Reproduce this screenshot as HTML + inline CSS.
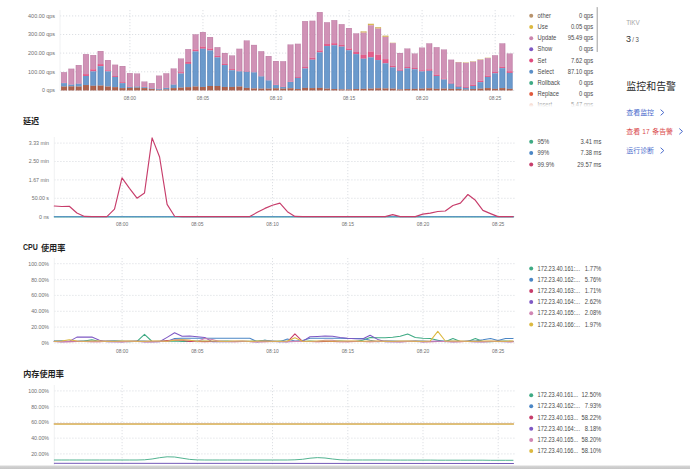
<!DOCTYPE html>
<html lang="zh-CN">
<head>
<meta charset="utf-8">
<title>TiDB Dashboard - Overview</title>
<style>
html,body{margin:0;padding:0;background:#fff;}
body{width:690px;height:469px;overflow:hidden;font-family:"Liberation Sans",sans-serif;}
svg{display:block;}
text{font-family:"Liberation Sans","Noto Sans CJK SC",sans-serif;}
</style>
</head>
<body>
<svg role="img" aria-label="TiDB Dashboard overview" width="690" height="469" viewBox="0 0 690 469" font-family='"Liberation Sans", "Noto Sans CJK SC", sans-serif'>
<defs>
<clipPath id="legclip"><rect x="520" y="0" width="85" height="107"/></clipPath>
<linearGradient id="fade" x1="0" y1="0" x2="0" y2="1"><stop offset="0" stop-color="#fff" stop-opacity="0.2"/><stop offset="1" stop-color="#fff" stop-opacity="1"/></linearGradient>
<linearGradient id="bot" x1="0" y1="0" x2="0" y2="1"><stop offset="0" stop-color="#ececec"/><stop offset="0.35" stop-color="#d2d2d2"/><stop offset="1" stop-color="#c6c6c6"/></linearGradient>
</defs>
<rect width="690" height="469" fill="#fff"/>
<line x1="60.0" y1="15.9" x2="514.5" y2="15.9" stroke="#cfd3d8" stroke-width="0.7" stroke-dasharray="1.2 1.8"/>
<text x="55" y="17.8" font-size="5.6" fill="#707070" text-anchor="end" font-weight="normal" textLength="26.9" lengthAdjust="spacingAndGlyphs">400.00 qps</text>
<line x1="60.0" y1="34.5" x2="514.5" y2="34.5" stroke="#cfd3d8" stroke-width="0.7" stroke-dasharray="1.2 1.8"/>
<text x="55" y="36.4" font-size="5.6" fill="#707070" text-anchor="end" font-weight="normal" textLength="26.9" lengthAdjust="spacingAndGlyphs">300.00 qps</text>
<line x1="60.0" y1="53.1" x2="514.5" y2="53.1" stroke="#cfd3d8" stroke-width="0.7" stroke-dasharray="1.2 1.8"/>
<text x="55" y="55.0" font-size="5.6" fill="#707070" text-anchor="end" font-weight="normal" textLength="26.9" lengthAdjust="spacingAndGlyphs">200.00 qps</text>
<line x1="60.0" y1="71.8" x2="514.5" y2="71.8" stroke="#cfd3d8" stroke-width="0.7" stroke-dasharray="1.2 1.8"/>
<text x="55" y="73.7" font-size="5.6" fill="#707070" text-anchor="end" font-weight="normal" textLength="26.9" lengthAdjust="spacingAndGlyphs">100.00 qps</text>
<line x1="60.0" y1="90.4" x2="514.5" y2="90.4" stroke="#cfd3d8" stroke-width="0.7" stroke-dasharray="1.2 1.8"/>
<text x="55" y="92.30000000000001" font-size="5.6" fill="#707070" text-anchor="end" font-weight="normal" textLength="12.88" lengthAdjust="spacingAndGlyphs">0 qps</text>
<line x1="60.0" y1="10" x2="60.0" y2="90.4" stroke="#eceef0" stroke-width="0.8"/>
<line x1="129.9" y1="10" x2="129.9" y2="90.4" stroke="#cfd3d8" stroke-width="0.7" stroke-dasharray="1.2 1.8"/>
<text x="129.9" y="100" font-size="5.6" fill="#707070" text-anchor="middle" font-weight="normal" textLength="12.3" lengthAdjust="spacingAndGlyphs">08:00</text>
<line x1="202.95" y1="10" x2="202.95" y2="90.4" stroke="#cfd3d8" stroke-width="0.7" stroke-dasharray="1.2 1.8"/>
<text x="202.95" y="100" font-size="5.6" fill="#707070" text-anchor="middle" font-weight="normal" textLength="12.3" lengthAdjust="spacingAndGlyphs">08:05</text>
<line x1="276.0" y1="10" x2="276.0" y2="90.4" stroke="#cfd3d8" stroke-width="0.7" stroke-dasharray="1.2 1.8"/>
<text x="276.0" y="100" font-size="5.6" fill="#707070" text-anchor="middle" font-weight="normal" textLength="12.3" lengthAdjust="spacingAndGlyphs">08:10</text>
<line x1="349.05" y1="10" x2="349.05" y2="90.4" stroke="#cfd3d8" stroke-width="0.7" stroke-dasharray="1.2 1.8"/>
<text x="349.05" y="100" font-size="5.6" fill="#707070" text-anchor="middle" font-weight="normal" textLength="12.3" lengthAdjust="spacingAndGlyphs">08:15</text>
<line x1="422.1" y1="10" x2="422.1" y2="90.4" stroke="#cfd3d8" stroke-width="0.7" stroke-dasharray="1.2 1.8"/>
<text x="422.1" y="100" font-size="5.6" fill="#707070" text-anchor="middle" font-weight="normal" textLength="12.3" lengthAdjust="spacingAndGlyphs">08:20</text>
<line x1="495.15" y1="10" x2="495.15" y2="90.4" stroke="#cfd3d8" stroke-width="0.7" stroke-dasharray="1.2 1.8"/>
<text x="495.15" y="100" font-size="5.6" fill="#707070" text-anchor="middle" font-weight="normal" textLength="12.3" lengthAdjust="spacingAndGlyphs">08:25</text>
<rect x="61.26" y="72.17" width="5.6" height="10.56" fill="#cb86ae" fill-opacity="0.9"/>
<path d="M61.51 72.17V82.72M66.61 72.17V82.72" stroke="#cb86ae" stroke-width="0.5" fill="none"/>
<rect x="61.26" y="82.72" width="5.6" height="0.38" fill="#e04c7e" fill-opacity="0.9"/>
<path d="M61.51 82.72V83.11M66.61 82.72V83.11" stroke="#e04c7e" stroke-width="0.5" fill="none"/>
<rect x="61.26" y="83.11" width="5.6" height="3.45" fill="#5b8fc7" fill-opacity="0.9"/>
<path d="M61.51 83.11V86.56M66.61 83.11V86.56" stroke="#5b8fc7" stroke-width="0.5" fill="none"/>
<rect x="61.26" y="86.56" width="5.6" height="3.84" fill="#a4523a" fill-opacity="0.9"/>
<path d="M61.51 86.56V90.40M66.61 86.56V90.40" stroke="#a4523a" stroke-width="0.5" fill="none"/>
<rect x="61.46" y="72.37" width="5.199999999999999" height="18.03" fill="none" stroke="#5a2a56" stroke-opacity="0.18" stroke-width="0.4"/>
<rect x="68.56" y="68.71" width="5.6" height="15.55" fill="#cb86ae" fill-opacity="0.9"/>
<path d="M68.81 68.71V84.26M73.91 68.71V84.26" stroke="#cb86ae" stroke-width="0.5" fill="none"/>
<rect x="68.56" y="84.26" width="5.6" height="0.38" fill="#e04c7e" fill-opacity="0.9"/>
<path d="M68.81 84.26V84.64M73.91 84.26V84.64" stroke="#e04c7e" stroke-width="0.5" fill="none"/>
<rect x="68.56" y="84.64" width="5.6" height="1.73" fill="#5b8fc7" fill-opacity="0.9"/>
<path d="M68.81 84.64V86.37M73.91 84.64V86.37" stroke="#5b8fc7" stroke-width="0.5" fill="none"/>
<rect x="68.56" y="86.37" width="5.6" height="4.03" fill="#a4523a" fill-opacity="0.9"/>
<path d="M68.81 86.37V90.40M73.91 86.37V90.40" stroke="#a4523a" stroke-width="0.5" fill="none"/>
<rect x="68.76" y="68.91" width="5.199999999999999" height="21.49" fill="none" stroke="#5a2a56" stroke-opacity="0.18" stroke-width="0.4"/>
<rect x="75.87" y="65.06" width="5.6" height="18.23" fill="#cb86ae" fill-opacity="0.9"/>
<path d="M76.12 65.06V83.30M81.22 65.06V83.30" stroke="#cb86ae" stroke-width="0.5" fill="none"/>
<rect x="75.87" y="83.30" width="5.6" height="0.38" fill="#e04c7e" fill-opacity="0.9"/>
<path d="M76.12 83.30V83.68M81.22 83.30V83.68" stroke="#e04c7e" stroke-width="0.5" fill="none"/>
<rect x="75.87" y="83.68" width="5.6" height="2.88" fill="#5b8fc7" fill-opacity="0.9"/>
<path d="M76.12 83.68V86.56M81.22 83.68V86.56" stroke="#5b8fc7" stroke-width="0.5" fill="none"/>
<rect x="75.87" y="86.56" width="5.6" height="3.84" fill="#a4523a" fill-opacity="0.9"/>
<path d="M76.12 86.56V90.40M81.22 86.56V90.40" stroke="#a4523a" stroke-width="0.5" fill="none"/>
<rect x="76.07" y="65.26" width="5.199999999999999" height="25.14" fill="none" stroke="#5a2a56" stroke-opacity="0.18" stroke-width="0.4"/>
<rect x="83.17" y="54.12" width="5.6" height="19.96" fill="#cb86ae" fill-opacity="0.9"/>
<path d="M83.42 54.12V74.09M88.52 54.12V74.09" stroke="#cb86ae" stroke-width="0.5" fill="none"/>
<rect x="83.17" y="74.09" width="5.6" height="1.92" fill="#e04c7e" fill-opacity="0.9"/>
<path d="M83.42 74.09V76.00M88.52 74.09V76.00" stroke="#e04c7e" stroke-width="0.5" fill="none"/>
<rect x="83.17" y="76.00" width="5.6" height="9.02" fill="#5b8fc7" fill-opacity="0.9"/>
<path d="M83.42 76.00V85.03M88.52 76.00V85.03" stroke="#5b8fc7" stroke-width="0.5" fill="none"/>
<rect x="83.17" y="85.03" width="5.6" height="5.37" fill="#a4523a" fill-opacity="0.9"/>
<path d="M83.42 85.03V90.40M88.52 85.03V90.40" stroke="#a4523a" stroke-width="0.5" fill="none"/>
<rect x="83.37" y="54.32" width="5.199999999999999" height="36.08" fill="none" stroke="#5a2a56" stroke-opacity="0.18" stroke-width="0.4"/>
<rect x="90.48" y="55.08" width="5.6" height="14.20" fill="#cb86ae" fill-opacity="0.9"/>
<path d="M90.73 55.08V69.29M95.83 55.08V69.29" stroke="#cb86ae" stroke-width="0.5" fill="none"/>
<rect x="90.48" y="69.29" width="5.6" height="2.11" fill="#e04c7e" fill-opacity="0.9"/>
<path d="M90.73 69.29V71.40M95.83 69.29V71.40" stroke="#e04c7e" stroke-width="0.5" fill="none"/>
<rect x="90.48" y="71.40" width="5.6" height="14.40" fill="#5b8fc7" fill-opacity="0.9"/>
<path d="M90.73 71.40V85.79M95.83 71.40V85.79" stroke="#5b8fc7" stroke-width="0.5" fill="none"/>
<rect x="90.48" y="85.79" width="5.6" height="4.61" fill="#a4523a" fill-opacity="0.9"/>
<path d="M90.73 85.79V90.40M95.83 85.79V90.40" stroke="#a4523a" stroke-width="0.5" fill="none"/>
<rect x="90.68" y="55.28" width="5.199999999999999" height="35.12" fill="none" stroke="#5a2a56" stroke-opacity="0.18" stroke-width="0.4"/>
<rect x="97.78" y="51.05" width="5.6" height="13.05" fill="#cb86ae" fill-opacity="0.9"/>
<path d="M98.03 51.05V64.10M103.13 51.05V64.10" stroke="#cb86ae" stroke-width="0.5" fill="none"/>
<rect x="97.78" y="64.10" width="5.6" height="2.11" fill="#e04c7e" fill-opacity="0.9"/>
<path d="M98.03 64.10V66.22M103.13 64.10V66.22" stroke="#e04c7e" stroke-width="0.5" fill="none"/>
<rect x="97.78" y="66.22" width="5.6" height="19.39" fill="#5b8fc7" fill-opacity="0.9"/>
<path d="M98.03 66.22V85.60M103.13 66.22V85.60" stroke="#5b8fc7" stroke-width="0.5" fill="none"/>
<rect x="97.78" y="85.60" width="5.6" height="4.80" fill="#a4523a" fill-opacity="0.9"/>
<path d="M98.03 85.60V90.40M103.13 85.60V90.40" stroke="#a4523a" stroke-width="0.5" fill="none"/>
<rect x="97.98" y="51.25" width="5.199999999999999" height="39.15" fill="none" stroke="#5a2a56" stroke-opacity="0.18" stroke-width="0.4"/>
<rect x="105.09" y="60.07" width="5.6" height="10.17" fill="#cb86ae" fill-opacity="0.9"/>
<path d="M105.34 60.07V70.25M110.44 60.07V70.25" stroke="#cb86ae" stroke-width="0.5" fill="none"/>
<rect x="105.09" y="70.25" width="5.6" height="1.15" fill="#e04c7e" fill-opacity="0.9"/>
<path d="M105.34 70.25V71.40M110.44 70.25V71.40" stroke="#e04c7e" stroke-width="0.5" fill="none"/>
<rect x="105.09" y="71.40" width="5.6" height="15.16" fill="#5b8fc7" fill-opacity="0.9"/>
<path d="M105.34 71.40V86.56M110.44 71.40V86.56" stroke="#5b8fc7" stroke-width="0.5" fill="none"/>
<rect x="105.09" y="86.56" width="5.6" height="3.84" fill="#a4523a" fill-opacity="0.9"/>
<path d="M105.34 86.56V90.40M110.44 86.56V90.40" stroke="#a4523a" stroke-width="0.5" fill="none"/>
<rect x="105.29" y="60.27" width="5.199999999999999" height="30.13" fill="none" stroke="#5a2a56" stroke-opacity="0.18" stroke-width="0.4"/>
<rect x="112.39" y="64.68" width="5.6" height="11.32" fill="#cb86ae" fill-opacity="0.9"/>
<path d="M112.64 64.68V76.00M117.74 64.68V76.00" stroke="#cb86ae" stroke-width="0.5" fill="none"/>
<rect x="112.39" y="76.00" width="5.6" height="0.96" fill="#e04c7e" fill-opacity="0.9"/>
<path d="M112.64 76.00V76.96M117.74 76.00V76.96" stroke="#e04c7e" stroke-width="0.5" fill="none"/>
<rect x="112.39" y="76.96" width="5.6" height="10.17" fill="#5b8fc7" fill-opacity="0.9"/>
<path d="M112.64 76.96V87.14M117.74 76.96V87.14" stroke="#5b8fc7" stroke-width="0.5" fill="none"/>
<rect x="112.39" y="87.14" width="5.6" height="3.26" fill="#a4523a" fill-opacity="0.9"/>
<path d="M112.64 87.14V90.40M117.74 87.14V90.40" stroke="#a4523a" stroke-width="0.5" fill="none"/>
<rect x="112.59" y="64.88" width="5.199999999999999" height="25.52" fill="none" stroke="#5a2a56" stroke-opacity="0.18" stroke-width="0.4"/>
<rect x="119.70" y="66.02" width="5.6" height="16.12" fill="#cb86ae" fill-opacity="0.9"/>
<path d="M119.95 66.02V82.15M125.05 66.02V82.15" stroke="#cb86ae" stroke-width="0.5" fill="none"/>
<rect x="119.70" y="82.15" width="5.6" height="0.96" fill="#e04c7e" fill-opacity="0.9"/>
<path d="M119.95 82.15V83.11M125.05 82.15V83.11" stroke="#e04c7e" stroke-width="0.5" fill="none"/>
<rect x="119.70" y="83.11" width="5.6" height="4.99" fill="#5b8fc7" fill-opacity="0.9"/>
<path d="M119.95 83.11V88.10M125.05 83.11V88.10" stroke="#5b8fc7" stroke-width="0.5" fill="none"/>
<rect x="119.70" y="88.10" width="5.6" height="2.30" fill="#a4523a" fill-opacity="0.9"/>
<path d="M119.95 88.10V90.40M125.05 88.10V90.40" stroke="#a4523a" stroke-width="0.5" fill="none"/>
<rect x="119.90" y="66.22" width="5.199999999999999" height="24.18" fill="none" stroke="#5a2a56" stroke-opacity="0.18" stroke-width="0.4"/>
<rect x="127.00" y="73.13" width="5.6" height="13.44" fill="#cb86ae" fill-opacity="0.9"/>
<path d="M127.25 73.13V86.56M132.35 73.13V86.56" stroke="#cb86ae" stroke-width="0.5" fill="none"/>
<rect x="127.00" y="86.56" width="5.6" height="0.38" fill="#e04c7e" fill-opacity="0.9"/>
<path d="M127.25 86.56V86.95M132.35 86.56V86.95" stroke="#e04c7e" stroke-width="0.5" fill="none"/>
<rect x="127.00" y="86.95" width="5.6" height="0.96" fill="#5b8fc7" fill-opacity="0.9"/>
<path d="M127.25 86.95V87.90M132.35 86.95V87.90" stroke="#5b8fc7" stroke-width="0.5" fill="none"/>
<rect x="127.00" y="87.90" width="5.6" height="2.50" fill="#a4523a" fill-opacity="0.9"/>
<path d="M127.25 87.90V90.40M132.35 87.90V90.40" stroke="#a4523a" stroke-width="0.5" fill="none"/>
<rect x="127.20" y="73.33" width="5.199999999999999" height="17.07" fill="none" stroke="#5a2a56" stroke-opacity="0.18" stroke-width="0.4"/>
<rect x="134.31" y="73.51" width="5.6" height="12.67" fill="#cb86ae" fill-opacity="0.9"/>
<path d="M134.56 73.51V86.18M139.66 73.51V86.18" stroke="#cb86ae" stroke-width="0.5" fill="none"/>
<rect x="134.31" y="86.18" width="5.6" height="0.38" fill="#e04c7e" fill-opacity="0.9"/>
<path d="M134.56 86.18V86.56M139.66 86.18V86.56" stroke="#e04c7e" stroke-width="0.5" fill="none"/>
<rect x="134.31" y="86.56" width="5.6" height="1.15" fill="#5b8fc7" fill-opacity="0.9"/>
<path d="M134.56 86.56V87.71M139.66 86.56V87.71" stroke="#5b8fc7" stroke-width="0.5" fill="none"/>
<rect x="134.31" y="87.71" width="5.6" height="2.69" fill="#a4523a" fill-opacity="0.9"/>
<path d="M134.56 87.71V90.40M139.66 87.71V90.40" stroke="#a4523a" stroke-width="0.5" fill="none"/>
<rect x="134.50" y="73.71" width="5.199999999999999" height="16.69" fill="none" stroke="#5a2a56" stroke-opacity="0.18" stroke-width="0.4"/>
<rect x="141.61" y="81.57" width="5.6" height="5.18" fill="#cb86ae" fill-opacity="0.9"/>
<path d="M141.86 81.57V86.75M146.96 81.57V86.75" stroke="#cb86ae" stroke-width="0.5" fill="none"/>
<rect x="141.61" y="86.75" width="5.6" height="0.38" fill="#e04c7e" fill-opacity="0.9"/>
<path d="M141.86 86.75V87.14M146.96 86.75V87.14" stroke="#e04c7e" stroke-width="0.5" fill="none"/>
<rect x="141.61" y="87.14" width="5.6" height="0.96" fill="#5b8fc7" fill-opacity="0.9"/>
<path d="M141.86 87.14V88.10M146.96 87.14V88.10" stroke="#5b8fc7" stroke-width="0.5" fill="none"/>
<rect x="141.61" y="88.10" width="5.6" height="2.30" fill="#a4523a" fill-opacity="0.9"/>
<path d="M141.86 88.10V90.40M146.96 88.10V90.40" stroke="#a4523a" stroke-width="0.5" fill="none"/>
<rect x="141.81" y="81.77" width="5.199999999999999" height="8.63" fill="none" stroke="#5a2a56" stroke-opacity="0.18" stroke-width="0.4"/>
<rect x="148.91" y="83.11" width="5.6" height="4.99" fill="#cb86ae" fill-opacity="0.9"/>
<path d="M149.16 83.11V88.10M154.26 83.11V88.10" stroke="#cb86ae" stroke-width="0.5" fill="none"/>
<rect x="148.91" y="88.10" width="5.6" height="0.38" fill="#e04c7e" fill-opacity="0.9"/>
<path d="M149.16 88.10V88.48M154.26 88.10V88.48" stroke="#e04c7e" stroke-width="0.5" fill="none"/>
<rect x="148.91" y="88.48" width="5.6" height="0.58" fill="#5b8fc7" fill-opacity="0.9"/>
<path d="M149.16 88.48V89.06M154.26 88.48V89.06" stroke="#5b8fc7" stroke-width="0.5" fill="none"/>
<rect x="148.91" y="89.06" width="5.6" height="1.34" fill="#a4523a" fill-opacity="0.9"/>
<path d="M149.16 89.06V90.40M154.26 89.06V90.40" stroke="#a4523a" stroke-width="0.5" fill="none"/>
<rect x="149.11" y="83.31" width="5.199999999999999" height="7.09" fill="none" stroke="#5a2a56" stroke-opacity="0.18" stroke-width="0.4"/>
<rect x="156.22" y="75.62" width="5.6" height="12.86" fill="#cb86ae" fill-opacity="0.9"/>
<path d="M156.47 75.62V88.48M161.57 75.62V88.48" stroke="#cb86ae" stroke-width="0.5" fill="none"/>
<rect x="156.22" y="88.48" width="5.6" height="0.38" fill="#e04c7e" fill-opacity="0.9"/>
<path d="M156.47 88.48V88.86M161.57 88.48V88.86" stroke="#e04c7e" stroke-width="0.5" fill="none"/>
<rect x="156.22" y="88.86" width="5.6" height="0.96" fill="#5b8fc7" fill-opacity="0.9"/>
<path d="M156.47 88.86V89.82M161.57 88.86V89.82" stroke="#5b8fc7" stroke-width="0.5" fill="none"/>
<rect x="156.22" y="89.82" width="5.6" height="0.58" fill="#a4523a" fill-opacity="0.9"/>
<path d="M156.47 89.82V90.40M161.57 89.82V90.40" stroke="#a4523a" stroke-width="0.5" fill="none"/>
<rect x="156.42" y="75.82" width="5.199999999999999" height="14.58" fill="none" stroke="#5a2a56" stroke-opacity="0.18" stroke-width="0.4"/>
<rect x="163.53" y="73.32" width="5.6" height="14.20" fill="#cb86ae" fill-opacity="0.9"/>
<path d="M163.78 73.32V87.52M168.88 73.32V87.52" stroke="#cb86ae" stroke-width="0.5" fill="none"/>
<rect x="163.53" y="87.52" width="5.6" height="0.38" fill="#e04c7e" fill-opacity="0.9"/>
<path d="M163.78 87.52V87.90M168.88 87.52V87.90" stroke="#e04c7e" stroke-width="0.5" fill="none"/>
<rect x="163.53" y="87.90" width="5.6" height="1.54" fill="#5b8fc7" fill-opacity="0.9"/>
<path d="M163.78 87.90V89.44M168.88 87.90V89.44" stroke="#5b8fc7" stroke-width="0.5" fill="none"/>
<rect x="163.53" y="89.44" width="5.6" height="0.96" fill="#a4523a" fill-opacity="0.9"/>
<path d="M163.78 89.44V90.40M168.88 89.44V90.40" stroke="#a4523a" stroke-width="0.5" fill="none"/>
<rect x="163.72" y="73.52" width="5.199999999999999" height="16.88" fill="none" stroke="#5a2a56" stroke-opacity="0.18" stroke-width="0.4"/>
<rect x="170.83" y="68.52" width="5.6" height="15.74" fill="#cb86ae" fill-opacity="0.9"/>
<path d="M171.08 68.52V84.26M176.18 68.52V84.26" stroke="#cb86ae" stroke-width="0.5" fill="none"/>
<rect x="170.83" y="84.26" width="5.6" height="0.38" fill="#e04c7e" fill-opacity="0.9"/>
<path d="M171.08 84.26V84.64M176.18 84.26V84.64" stroke="#e04c7e" stroke-width="0.5" fill="none"/>
<rect x="170.83" y="84.64" width="5.6" height="3.45" fill="#5b8fc7" fill-opacity="0.9"/>
<path d="M171.08 84.64V88.10M176.18 84.64V88.10" stroke="#5b8fc7" stroke-width="0.5" fill="none"/>
<rect x="170.83" y="88.10" width="5.6" height="2.30" fill="#a4523a" fill-opacity="0.9"/>
<path d="M171.08 88.10V90.40M176.18 88.10V90.40" stroke="#a4523a" stroke-width="0.5" fill="none"/>
<rect x="171.03" y="68.72" width="5.199999999999999" height="21.68" fill="none" stroke="#5a2a56" stroke-opacity="0.18" stroke-width="0.4"/>
<rect x="178.13" y="58.54" width="5.6" height="13.63" fill="#cb86ae" fill-opacity="0.9"/>
<path d="M178.38 58.54V72.17M183.48 58.54V72.17" stroke="#cb86ae" stroke-width="0.5" fill="none"/>
<rect x="178.13" y="72.17" width="5.6" height="1.34" fill="#e04c7e" fill-opacity="0.9"/>
<path d="M178.38 72.17V73.51M183.48 72.17V73.51" stroke="#e04c7e" stroke-width="0.5" fill="none"/>
<rect x="178.13" y="73.51" width="5.6" height="14.20" fill="#5b8fc7" fill-opacity="0.9"/>
<path d="M178.38 73.51V87.71M183.48 73.51V87.71" stroke="#5b8fc7" stroke-width="0.5" fill="none"/>
<rect x="178.13" y="87.71" width="5.6" height="2.69" fill="#a4523a" fill-opacity="0.9"/>
<path d="M178.38 87.71V90.40M183.48 87.71V90.40" stroke="#a4523a" stroke-width="0.5" fill="none"/>
<rect x="178.33" y="58.74" width="5.199999999999999" height="31.66" fill="none" stroke="#5a2a56" stroke-opacity="0.18" stroke-width="0.4"/>
<rect x="185.44" y="49.13" width="5.6" height="12.86" fill="#cb86ae" fill-opacity="0.9"/>
<path d="M185.69 49.13V61.99M190.79 49.13V61.99" stroke="#cb86ae" stroke-width="0.5" fill="none"/>
<rect x="185.44" y="61.99" width="5.6" height="1.92" fill="#e04c7e" fill-opacity="0.9"/>
<path d="M185.69 61.99V63.91M190.79 61.99V63.91" stroke="#e04c7e" stroke-width="0.5" fill="none"/>
<rect x="185.44" y="63.91" width="5.6" height="23.22" fill="#5b8fc7" fill-opacity="0.9"/>
<path d="M185.69 63.91V87.14M190.79 63.91V87.14" stroke="#5b8fc7" stroke-width="0.5" fill="none"/>
<rect x="185.44" y="87.14" width="5.6" height="3.26" fill="#a4523a" fill-opacity="0.9"/>
<path d="M185.69 87.14V90.40M190.79 87.14V90.40" stroke="#a4523a" stroke-width="0.5" fill="none"/>
<rect x="185.64" y="49.33" width="5.199999999999999" height="41.07" fill="none" stroke="#5a2a56" stroke-opacity="0.18" stroke-width="0.4"/>
<rect x="192.75" y="34.35" width="5.6" height="15.16" fill="#cb86ae" fill-opacity="0.9"/>
<path d="M193.00 34.35V49.52M198.09 34.35V49.52" stroke="#cb86ae" stroke-width="0.5" fill="none"/>
<rect x="192.75" y="49.52" width="5.6" height="1.92" fill="#e04c7e" fill-opacity="0.9"/>
<path d="M193.00 49.52V51.44M198.09 49.52V51.44" stroke="#e04c7e" stroke-width="0.5" fill="none"/>
<rect x="192.75" y="51.44" width="5.6" height="35.12" fill="#5b8fc7" fill-opacity="0.9"/>
<path d="M193.00 51.44V86.56M198.09 51.44V86.56" stroke="#5b8fc7" stroke-width="0.5" fill="none"/>
<rect x="192.75" y="86.56" width="5.6" height="3.84" fill="#a4523a" fill-opacity="0.9"/>
<path d="M193.00 86.56V90.40M198.09 86.56V90.40" stroke="#a4523a" stroke-width="0.5" fill="none"/>
<rect x="192.94" y="34.55" width="5.199999999999999" height="55.85" fill="none" stroke="#5a2a56" stroke-opacity="0.18" stroke-width="0.4"/>
<rect x="200.05" y="32.05" width="5.6" height="14.59" fill="#cb86ae" fill-opacity="0.9"/>
<path d="M200.30 32.05V46.64M205.40 32.05V46.64" stroke="#cb86ae" stroke-width="0.5" fill="none"/>
<rect x="200.05" y="46.64" width="5.6" height="2.11" fill="#e04c7e" fill-opacity="0.9"/>
<path d="M200.30 46.64V48.75M205.40 46.64V48.75" stroke="#e04c7e" stroke-width="0.5" fill="none"/>
<rect x="200.05" y="48.75" width="5.6" height="38.20" fill="#5b8fc7" fill-opacity="0.9"/>
<path d="M200.30 48.75V86.95M205.40 48.75V86.95" stroke="#5b8fc7" stroke-width="0.5" fill="none"/>
<rect x="200.05" y="86.95" width="5.6" height="3.45" fill="#a4523a" fill-opacity="0.9"/>
<path d="M200.30 86.95V90.40M205.40 86.95V90.40" stroke="#a4523a" stroke-width="0.5" fill="none"/>
<rect x="200.25" y="32.25" width="5.199999999999999" height="58.15" fill="none" stroke="#5a2a56" stroke-opacity="0.18" stroke-width="0.4"/>
<rect x="207.35" y="37.04" width="5.6" height="11.52" fill="#cb86ae" fill-opacity="0.9"/>
<path d="M207.60 37.04V48.56M212.70 37.04V48.56" stroke="#cb86ae" stroke-width="0.5" fill="none"/>
<rect x="207.35" y="48.56" width="5.6" height="1.92" fill="#e04c7e" fill-opacity="0.9"/>
<path d="M207.60 48.56V50.48M212.70 48.56V50.48" stroke="#e04c7e" stroke-width="0.5" fill="none"/>
<rect x="207.35" y="50.48" width="5.6" height="35.51" fill="#5b8fc7" fill-opacity="0.9"/>
<path d="M207.60 50.48V85.99M212.70 50.48V85.99" stroke="#5b8fc7" stroke-width="0.5" fill="none"/>
<rect x="207.35" y="85.99" width="5.6" height="4.41" fill="#a4523a" fill-opacity="0.9"/>
<path d="M207.60 85.99V90.40M212.70 85.99V90.40" stroke="#a4523a" stroke-width="0.5" fill="none"/>
<rect x="207.55" y="37.24" width="5.199999999999999" height="53.16" fill="none" stroke="#5a2a56" stroke-opacity="0.18" stroke-width="0.4"/>
<rect x="214.66" y="47.21" width="5.6" height="8.64" fill="#cb86ae" fill-opacity="0.9"/>
<path d="M214.91 47.21V55.85M220.01 47.21V55.85" stroke="#cb86ae" stroke-width="0.5" fill="none"/>
<rect x="214.66" y="55.85" width="5.6" height="1.54" fill="#e04c7e" fill-opacity="0.9"/>
<path d="M214.91 55.85V57.39M220.01 55.85V57.39" stroke="#e04c7e" stroke-width="0.5" fill="none"/>
<rect x="214.66" y="57.39" width="5.6" height="28.60" fill="#5b8fc7" fill-opacity="0.9"/>
<path d="M214.91 57.39V85.99M220.01 57.39V85.99" stroke="#5b8fc7" stroke-width="0.5" fill="none"/>
<rect x="214.66" y="85.99" width="5.6" height="4.41" fill="#a4523a" fill-opacity="0.9"/>
<path d="M214.91 85.99V90.40M220.01 85.99V90.40" stroke="#a4523a" stroke-width="0.5" fill="none"/>
<rect x="214.86" y="47.41" width="5.199999999999999" height="42.99" fill="none" stroke="#5a2a56" stroke-opacity="0.18" stroke-width="0.4"/>
<rect x="221.97" y="52.97" width="5.6" height="10.94" fill="#cb86ae" fill-opacity="0.9"/>
<path d="M222.22 52.97V63.91M227.31 52.97V63.91" stroke="#cb86ae" stroke-width="0.5" fill="none"/>
<rect x="221.97" y="63.91" width="5.6" height="1.15" fill="#e04c7e" fill-opacity="0.9"/>
<path d="M222.22 63.91V65.06M227.31 63.91V65.06" stroke="#e04c7e" stroke-width="0.5" fill="none"/>
<rect x="221.97" y="65.06" width="5.6" height="21.88" fill="#5b8fc7" fill-opacity="0.9"/>
<path d="M222.22 65.06V86.95M227.31 65.06V86.95" stroke="#5b8fc7" stroke-width="0.5" fill="none"/>
<rect x="221.97" y="86.95" width="5.6" height="3.45" fill="#a4523a" fill-opacity="0.9"/>
<path d="M222.22 86.95V90.40M227.31 86.95V90.40" stroke="#a4523a" stroke-width="0.5" fill="none"/>
<rect x="222.16" y="53.17" width="5.199999999999999" height="37.23" fill="none" stroke="#5a2a56" stroke-opacity="0.18" stroke-width="0.4"/>
<rect x="229.27" y="55.47" width="5.6" height="13.63" fill="#cb86ae" fill-opacity="0.9"/>
<path d="M229.52 55.47V69.09M234.62 55.47V69.09" stroke="#cb86ae" stroke-width="0.5" fill="none"/>
<rect x="229.27" y="69.09" width="5.6" height="1.15" fill="#e04c7e" fill-opacity="0.9"/>
<path d="M229.52 69.09V70.25M234.62 69.09V70.25" stroke="#e04c7e" stroke-width="0.5" fill="none"/>
<rect x="229.27" y="70.25" width="5.6" height="16.70" fill="#5b8fc7" fill-opacity="0.9"/>
<path d="M229.52 70.25V86.95M234.62 70.25V86.95" stroke="#5b8fc7" stroke-width="0.5" fill="none"/>
<rect x="229.27" y="86.95" width="5.6" height="3.45" fill="#a4523a" fill-opacity="0.9"/>
<path d="M229.52 86.95V90.40M234.62 86.95V90.40" stroke="#a4523a" stroke-width="0.5" fill="none"/>
<rect x="229.47" y="55.67" width="5.199999999999999" height="34.73" fill="none" stroke="#5a2a56" stroke-opacity="0.18" stroke-width="0.4"/>
<rect x="236.57" y="48.75" width="5.6" height="21.88" fill="#cb86ae" fill-opacity="0.9"/>
<path d="M236.82 48.75V70.63M241.92 48.75V70.63" stroke="#cb86ae" stroke-width="0.5" fill="none"/>
<rect x="236.57" y="70.63" width="5.6" height="0.77" fill="#e04c7e" fill-opacity="0.9"/>
<path d="M236.82 70.63V71.40M241.92 70.63V71.40" stroke="#e04c7e" stroke-width="0.5" fill="none"/>
<rect x="236.57" y="71.40" width="5.6" height="15.16" fill="#5b8fc7" fill-opacity="0.9"/>
<path d="M236.82 71.40V86.56M241.92 71.40V86.56" stroke="#5b8fc7" stroke-width="0.5" fill="none"/>
<rect x="236.57" y="86.56" width="5.6" height="3.84" fill="#a4523a" fill-opacity="0.9"/>
<path d="M236.82 86.56V90.40M241.92 86.56V90.40" stroke="#a4523a" stroke-width="0.5" fill="none"/>
<rect x="236.77" y="48.95" width="5.199999999999999" height="41.45" fill="none" stroke="#5a2a56" stroke-opacity="0.18" stroke-width="0.4"/>
<rect x="243.88" y="40.50" width="5.6" height="30.71" fill="#cb86ae" fill-opacity="0.9"/>
<path d="M244.13 40.50V71.21M249.23 40.50V71.21" stroke="#cb86ae" stroke-width="0.5" fill="none"/>
<rect x="243.88" y="71.21" width="5.6" height="0.58" fill="#e04c7e" fill-opacity="0.9"/>
<path d="M244.13 71.21V71.78M249.23 71.21V71.78" stroke="#e04c7e" stroke-width="0.5" fill="none"/>
<rect x="243.88" y="71.78" width="5.6" height="16.12" fill="#5b8fc7" fill-opacity="0.9"/>
<path d="M244.13 71.78V87.90M249.23 71.78V87.90" stroke="#5b8fc7" stroke-width="0.5" fill="none"/>
<rect x="243.88" y="87.90" width="5.6" height="2.50" fill="#a4523a" fill-opacity="0.9"/>
<path d="M244.13 87.90V90.40M249.23 87.90V90.40" stroke="#a4523a" stroke-width="0.5" fill="none"/>
<rect x="244.08" y="40.70" width="5.199999999999999" height="49.70" fill="none" stroke="#5a2a56" stroke-opacity="0.18" stroke-width="0.4"/>
<rect x="251.19" y="44.91" width="5.6" height="27.06" fill="#cb86ae" fill-opacity="0.9"/>
<path d="M251.44 44.91V71.97M256.54 44.91V71.97" stroke="#cb86ae" stroke-width="0.5" fill="none"/>
<rect x="251.19" y="71.97" width="5.6" height="0.38" fill="#e04c7e" fill-opacity="0.9"/>
<path d="M251.44 71.97V72.36M256.54 71.97V72.36" stroke="#e04c7e" stroke-width="0.5" fill="none"/>
<rect x="251.19" y="72.36" width="5.6" height="16.12" fill="#5b8fc7" fill-opacity="0.9"/>
<path d="M251.44 72.36V88.48M256.54 72.36V88.48" stroke="#5b8fc7" stroke-width="0.5" fill="none"/>
<rect x="251.19" y="88.48" width="5.6" height="1.92" fill="#a4523a" fill-opacity="0.9"/>
<path d="M251.44 88.48V90.40M256.54 88.48V90.40" stroke="#a4523a" stroke-width="0.5" fill="none"/>
<rect x="251.38" y="45.11" width="5.199999999999999" height="45.29" fill="none" stroke="#5a2a56" stroke-opacity="0.18" stroke-width="0.4"/>
<rect x="258.49" y="51.24" width="5.6" height="24.76" fill="#cb86ae" fill-opacity="0.9"/>
<path d="M258.74 51.24V76.00M263.84 51.24V76.00" stroke="#cb86ae" stroke-width="0.5" fill="none"/>
<rect x="258.49" y="76.00" width="5.6" height="0.38" fill="#e04c7e" fill-opacity="0.9"/>
<path d="M258.74 76.00V76.39M263.84 76.00V76.39" stroke="#e04c7e" stroke-width="0.5" fill="none"/>
<rect x="258.49" y="76.39" width="5.6" height="12.28" fill="#5b8fc7" fill-opacity="0.9"/>
<path d="M258.74 76.39V88.67M263.84 76.39V88.67" stroke="#5b8fc7" stroke-width="0.5" fill="none"/>
<rect x="258.49" y="88.67" width="5.6" height="1.73" fill="#a4523a" fill-opacity="0.9"/>
<path d="M258.74 88.67V90.40M263.84 88.67V90.40" stroke="#a4523a" stroke-width="0.5" fill="none"/>
<rect x="258.69" y="51.44" width="5.199999999999999" height="38.96" fill="none" stroke="#5a2a56" stroke-opacity="0.18" stroke-width="0.4"/>
<rect x="265.80" y="56.04" width="5.6" height="23.99" fill="#cb86ae" fill-opacity="0.9"/>
<path d="M266.05 56.04V80.04M271.15 56.04V80.04" stroke="#cb86ae" stroke-width="0.5" fill="none"/>
<rect x="265.80" y="80.04" width="5.6" height="0.38" fill="#e04c7e" fill-opacity="0.9"/>
<path d="M266.05 80.04V80.42M271.15 80.04V80.42" stroke="#e04c7e" stroke-width="0.5" fill="none"/>
<rect x="265.80" y="80.42" width="5.6" height="8.25" fill="#5b8fc7" fill-opacity="0.9"/>
<path d="M266.05 80.42V88.67M271.15 80.42V88.67" stroke="#5b8fc7" stroke-width="0.5" fill="none"/>
<rect x="265.80" y="88.67" width="5.6" height="1.73" fill="#a4523a" fill-opacity="0.9"/>
<path d="M266.05 88.67V90.40M271.15 88.67V90.40" stroke="#a4523a" stroke-width="0.5" fill="none"/>
<rect x="266.00" y="56.24" width="5.199999999999999" height="34.16" fill="none" stroke="#5a2a56" stroke-opacity="0.18" stroke-width="0.4"/>
<rect x="273.10" y="61.03" width="5.6" height="23.61" fill="#cb86ae" fill-opacity="0.9"/>
<path d="M273.35 61.03V84.64M278.45 61.03V84.64" stroke="#cb86ae" stroke-width="0.5" fill="none"/>
<rect x="273.10" y="84.64" width="5.6" height="0.38" fill="#e04c7e" fill-opacity="0.9"/>
<path d="M273.35 84.64V85.03M278.45 84.64V85.03" stroke="#e04c7e" stroke-width="0.5" fill="none"/>
<rect x="273.10" y="85.03" width="5.6" height="3.26" fill="#5b8fc7" fill-opacity="0.9"/>
<path d="M273.35 85.03V88.29M278.45 85.03V88.29" stroke="#5b8fc7" stroke-width="0.5" fill="none"/>
<rect x="273.10" y="88.29" width="5.6" height="2.11" fill="#a4523a" fill-opacity="0.9"/>
<path d="M273.35 88.29V90.40M278.45 88.29V90.40" stroke="#a4523a" stroke-width="0.5" fill="none"/>
<rect x="273.30" y="61.23" width="5.199999999999999" height="29.17" fill="none" stroke="#5a2a56" stroke-opacity="0.18" stroke-width="0.4"/>
<rect x="280.41" y="61.23" width="5.6" height="25.34" fill="#cb86ae" fill-opacity="0.9"/>
<path d="M280.66 61.23V86.56M285.76 61.23V86.56" stroke="#cb86ae" stroke-width="0.5" fill="none"/>
<rect x="280.41" y="86.56" width="5.6" height="0.38" fill="#e04c7e" fill-opacity="0.9"/>
<path d="M280.66 86.56V86.95M285.76 86.56V86.95" stroke="#e04c7e" stroke-width="0.5" fill="none"/>
<rect x="280.41" y="86.95" width="5.6" height="1.73" fill="#5b8fc7" fill-opacity="0.9"/>
<path d="M280.66 86.95V88.67M285.76 86.95V88.67" stroke="#5b8fc7" stroke-width="0.5" fill="none"/>
<rect x="280.41" y="88.67" width="5.6" height="1.73" fill="#a4523a" fill-opacity="0.9"/>
<path d="M280.66 88.67V90.40M285.76 88.67V90.40" stroke="#a4523a" stroke-width="0.5" fill="none"/>
<rect x="280.61" y="61.43" width="5.199999999999999" height="28.97" fill="none" stroke="#5a2a56" stroke-opacity="0.18" stroke-width="0.4"/>
<rect x="287.71" y="44.53" width="5.6" height="37.04" fill="#cb86ae" fill-opacity="0.9"/>
<path d="M287.96 44.53V81.57M293.06 44.53V81.57" stroke="#cb86ae" stroke-width="0.5" fill="none"/>
<rect x="287.71" y="81.57" width="5.6" height="0.38" fill="#e04c7e" fill-opacity="0.9"/>
<path d="M287.96 81.57V81.95M293.06 81.57V81.95" stroke="#e04c7e" stroke-width="0.5" fill="none"/>
<rect x="287.71" y="81.95" width="5.6" height="6.33" fill="#5b8fc7" fill-opacity="0.9"/>
<path d="M287.96 81.95V88.29M293.06 81.95V88.29" stroke="#5b8fc7" stroke-width="0.5" fill="none"/>
<rect x="287.71" y="88.29" width="5.6" height="2.11" fill="#a4523a" fill-opacity="0.9"/>
<path d="M287.96 88.29V90.40M293.06 88.29V90.40" stroke="#a4523a" stroke-width="0.5" fill="none"/>
<rect x="287.91" y="44.73" width="5.199999999999999" height="45.67" fill="none" stroke="#5a2a56" stroke-opacity="0.18" stroke-width="0.4"/>
<rect x="295.01" y="43.76" width="5.6" height="33.21" fill="#cb86ae" fill-opacity="0.9"/>
<path d="M295.26 43.76V76.96M300.37 43.76V76.96" stroke="#cb86ae" stroke-width="0.5" fill="none"/>
<rect x="295.01" y="76.96" width="5.6" height="0.96" fill="#e04c7e" fill-opacity="0.9"/>
<path d="M295.26 76.96V77.92M300.37 76.96V77.92" stroke="#e04c7e" stroke-width="0.5" fill="none"/>
<rect x="295.01" y="77.92" width="5.6" height="11.13" fill="#5b8fc7" fill-opacity="0.9"/>
<path d="M295.26 77.92V89.06M300.37 77.92V89.06" stroke="#5b8fc7" stroke-width="0.5" fill="none"/>
<rect x="295.01" y="89.06" width="5.6" height="1.34" fill="#a4523a" fill-opacity="0.9"/>
<path d="M295.26 89.06V90.40M300.37 89.06V90.40" stroke="#a4523a" stroke-width="0.5" fill="none"/>
<rect x="295.21" y="43.96" width="5.199999999999999" height="46.44" fill="none" stroke="#5a2a56" stroke-opacity="0.18" stroke-width="0.4"/>
<rect x="302.32" y="21.11" width="5.6" height="45.87" fill="#cb86ae" fill-opacity="0.9"/>
<path d="M302.57 21.11V66.98M307.67 21.11V66.98" stroke="#cb86ae" stroke-width="0.5" fill="none"/>
<rect x="302.32" y="66.98" width="5.6" height="1.54" fill="#e04c7e" fill-opacity="0.9"/>
<path d="M302.57 66.98V68.52M307.67 66.98V68.52" stroke="#e04c7e" stroke-width="0.5" fill="none"/>
<rect x="302.32" y="68.52" width="5.6" height="19.39" fill="#5b8fc7" fill-opacity="0.9"/>
<path d="M302.57 68.52V87.90M307.67 68.52V87.90" stroke="#5b8fc7" stroke-width="0.5" fill="none"/>
<rect x="302.32" y="87.90" width="5.6" height="2.50" fill="#a4523a" fill-opacity="0.9"/>
<path d="M302.57 87.90V90.40M307.67 87.90V90.40" stroke="#a4523a" stroke-width="0.5" fill="none"/>
<rect x="302.52" y="21.31" width="5.199999999999999" height="69.09" fill="none" stroke="#5a2a56" stroke-opacity="0.18" stroke-width="0.4"/>
<rect x="309.62" y="20.73" width="5.6" height="37.04" fill="#cb86ae" fill-opacity="0.9"/>
<path d="M309.88 20.73V57.77M314.98 20.73V57.77" stroke="#cb86ae" stroke-width="0.5" fill="none"/>
<rect x="309.62" y="57.77" width="5.6" height="1.92" fill="#e04c7e" fill-opacity="0.9"/>
<path d="M309.88 57.77V59.69M314.98 57.77V59.69" stroke="#e04c7e" stroke-width="0.5" fill="none"/>
<rect x="309.62" y="59.69" width="5.6" height="28.41" fill="#5b8fc7" fill-opacity="0.9"/>
<path d="M309.88 59.69V88.10M314.98 59.69V88.10" stroke="#5b8fc7" stroke-width="0.5" fill="none"/>
<rect x="309.62" y="88.10" width="5.6" height="2.30" fill="#a4523a" fill-opacity="0.9"/>
<path d="M309.88 88.10V90.40M314.98 88.10V90.40" stroke="#a4523a" stroke-width="0.5" fill="none"/>
<rect x="309.82" y="20.93" width="5.199999999999999" height="69.47" fill="none" stroke="#5a2a56" stroke-opacity="0.18" stroke-width="0.4"/>
<rect x="316.93" y="12.09" width="5.6" height="38.39" fill="#cb86ae" fill-opacity="0.9"/>
<path d="M317.18 12.09V50.48M322.28 12.09V50.48" stroke="#cb86ae" stroke-width="0.5" fill="none"/>
<rect x="316.93" y="50.48" width="5.6" height="1.92" fill="#e04c7e" fill-opacity="0.9"/>
<path d="M317.18 50.48V52.40M322.28 50.48V52.40" stroke="#e04c7e" stroke-width="0.5" fill="none"/>
<rect x="316.93" y="52.40" width="5.6" height="35.51" fill="#5b8fc7" fill-opacity="0.9"/>
<path d="M317.18 52.40V87.90M322.28 52.40V87.90" stroke="#5b8fc7" stroke-width="0.5" fill="none"/>
<rect x="316.93" y="87.90" width="5.6" height="2.50" fill="#a4523a" fill-opacity="0.9"/>
<path d="M317.18 87.90V90.40M322.28 87.90V90.40" stroke="#a4523a" stroke-width="0.5" fill="none"/>
<rect x="317.13" y="12.29" width="5.199999999999999" height="78.11" fill="none" stroke="#5a2a56" stroke-opacity="0.18" stroke-width="0.4"/>
<rect x="324.23" y="22.26" width="5.6" height="21.69" fill="#cb86ae" fill-opacity="0.9"/>
<path d="M324.48 22.26V43.95M329.58 22.26V43.95" stroke="#cb86ae" stroke-width="0.5" fill="none"/>
<rect x="324.23" y="43.95" width="5.6" height="2.11" fill="#e04c7e" fill-opacity="0.9"/>
<path d="M324.48 43.95V46.06M329.58 43.95V46.06" stroke="#e04c7e" stroke-width="0.5" fill="none"/>
<rect x="324.23" y="46.06" width="5.6" height="42.61" fill="#5b8fc7" fill-opacity="0.9"/>
<path d="M324.48 46.06V88.67M329.58 46.06V88.67" stroke="#5b8fc7" stroke-width="0.5" fill="none"/>
<rect x="324.23" y="88.67" width="5.6" height="1.73" fill="#a4523a" fill-opacity="0.9"/>
<path d="M324.48 88.67V90.40M329.58 88.67V90.40" stroke="#a4523a" stroke-width="0.5" fill="none"/>
<rect x="324.43" y="22.46" width="5.199999999999999" height="67.94" fill="none" stroke="#5a2a56" stroke-opacity="0.18" stroke-width="0.4"/>
<rect x="331.54" y="20.15" width="5.6" height="23.03" fill="#cb86ae" fill-opacity="0.9"/>
<path d="M331.79 20.15V43.18M336.89 20.15V43.18" stroke="#cb86ae" stroke-width="0.5" fill="none"/>
<rect x="331.54" y="43.18" width="5.6" height="2.11" fill="#e04c7e" fill-opacity="0.9"/>
<path d="M331.79 43.18V45.29M336.89 43.18V45.29" stroke="#e04c7e" stroke-width="0.5" fill="none"/>
<rect x="331.54" y="45.29" width="5.6" height="43.76" fill="#5b8fc7" fill-opacity="0.9"/>
<path d="M331.79 45.29V89.06M336.89 45.29V89.06" stroke="#5b8fc7" stroke-width="0.5" fill="none"/>
<rect x="331.54" y="89.06" width="5.6" height="1.34" fill="#a4523a" fill-opacity="0.9"/>
<path d="M331.79 89.06V90.40M336.89 89.06V90.40" stroke="#a4523a" stroke-width="0.5" fill="none"/>
<rect x="331.74" y="20.35" width="5.199999999999999" height="70.05" fill="none" stroke="#5a2a56" stroke-opacity="0.18" stroke-width="0.4"/>
<rect x="338.84" y="24.18" width="5.6" height="20.73" fill="#cb86ae" fill-opacity="0.9"/>
<path d="M339.09 24.18V44.91M344.19 24.18V44.91" stroke="#cb86ae" stroke-width="0.5" fill="none"/>
<rect x="338.84" y="44.91" width="5.6" height="1.73" fill="#e04c7e" fill-opacity="0.9"/>
<path d="M339.09 44.91V46.64M344.19 44.91V46.64" stroke="#e04c7e" stroke-width="0.5" fill="none"/>
<rect x="338.84" y="46.64" width="5.6" height="42.80" fill="#5b8fc7" fill-opacity="0.9"/>
<path d="M339.09 46.64V89.44M344.19 46.64V89.44" stroke="#5b8fc7" stroke-width="0.5" fill="none"/>
<rect x="338.84" y="89.44" width="5.6" height="0.96" fill="#a4523a" fill-opacity="0.9"/>
<path d="M339.09 89.44V90.40M344.19 89.44V90.40" stroke="#a4523a" stroke-width="0.5" fill="none"/>
<rect x="339.04" y="24.38" width="5.199999999999999" height="66.02" fill="none" stroke="#5a2a56" stroke-opacity="0.18" stroke-width="0.4"/>
<rect x="346.15" y="28.02" width="5.6" height="20.54" fill="#cb86ae" fill-opacity="0.9"/>
<path d="M346.40 28.02V48.56M351.50 28.02V48.56" stroke="#cb86ae" stroke-width="0.5" fill="none"/>
<rect x="346.15" y="48.56" width="5.6" height="1.73" fill="#e04c7e" fill-opacity="0.9"/>
<path d="M346.40 48.56V50.28M351.50 48.56V50.28" stroke="#e04c7e" stroke-width="0.5" fill="none"/>
<rect x="346.15" y="50.28" width="5.6" height="39.16" fill="#5b8fc7" fill-opacity="0.9"/>
<path d="M346.40 50.28V89.44M351.50 50.28V89.44" stroke="#5b8fc7" stroke-width="0.5" fill="none"/>
<rect x="346.15" y="89.44" width="5.6" height="0.96" fill="#a4523a" fill-opacity="0.9"/>
<path d="M346.40 89.44V90.40M351.50 89.44V90.40" stroke="#a4523a" stroke-width="0.5" fill="none"/>
<rect x="346.35" y="28.22" width="5.199999999999999" height="62.18" fill="none" stroke="#5a2a56" stroke-opacity="0.18" stroke-width="0.4"/>
<rect x="353.45" y="33.39" width="5.6" height="18.62" fill="#cb86ae" fill-opacity="0.9"/>
<path d="M353.70 33.39V52.01M358.81 33.39V52.01" stroke="#cb86ae" stroke-width="0.5" fill="none"/>
<rect x="353.45" y="52.01" width="5.6" height="2.11" fill="#e04c7e" fill-opacity="0.9"/>
<path d="M353.70 52.01V54.12M358.81 52.01V54.12" stroke="#e04c7e" stroke-width="0.5" fill="none"/>
<rect x="353.45" y="54.12" width="5.6" height="34.93" fill="#5b8fc7" fill-opacity="0.9"/>
<path d="M353.70 54.12V89.06M358.81 54.12V89.06" stroke="#5b8fc7" stroke-width="0.5" fill="none"/>
<rect x="353.45" y="89.06" width="5.6" height="1.34" fill="#a4523a" fill-opacity="0.9"/>
<path d="M353.70 89.06V90.40M358.81 89.06V90.40" stroke="#a4523a" stroke-width="0.5" fill="none"/>
<rect x="353.65" y="33.59" width="5.199999999999999" height="56.81" fill="none" stroke="#5a2a56" stroke-opacity="0.18" stroke-width="0.4"/>
<rect x="360.76" y="31.47" width="5.6" height="1.15" fill="#dcb940" fill-opacity="0.9"/>
<path d="M361.01 31.47V32.63M366.11 31.47V32.63" stroke="#dcb940" stroke-width="0.5" fill="none"/>
<rect x="360.76" y="32.63" width="5.6" height="22.26" fill="#cb86ae" fill-opacity="0.9"/>
<path d="M361.01 32.63V54.89M366.11 32.63V54.89" stroke="#cb86ae" stroke-width="0.5" fill="none"/>
<rect x="360.76" y="54.89" width="5.6" height="3.84" fill="#e04c7e" fill-opacity="0.9"/>
<path d="M361.01 54.89V58.73M366.11 54.89V58.73" stroke="#e04c7e" stroke-width="0.5" fill="none"/>
<rect x="360.76" y="58.73" width="5.6" height="30.13" fill="#5b8fc7" fill-opacity="0.9"/>
<path d="M361.01 58.73V88.86M366.11 58.73V88.86" stroke="#5b8fc7" stroke-width="0.5" fill="none"/>
<rect x="360.76" y="88.86" width="5.6" height="1.54" fill="#a4523a" fill-opacity="0.9"/>
<path d="M361.01 88.86V90.40M366.11 88.86V90.40" stroke="#a4523a" stroke-width="0.5" fill="none"/>
<rect x="360.96" y="31.67" width="5.199999999999999" height="58.73" fill="none" stroke="#5a2a56" stroke-opacity="0.18" stroke-width="0.4"/>
<rect x="368.06" y="23.80" width="5.6" height="1.54" fill="#dcb940" fill-opacity="0.9"/>
<path d="M368.31 23.80V25.33M373.42 23.80V25.33" stroke="#dcb940" stroke-width="0.5" fill="none"/>
<rect x="368.06" y="25.33" width="5.6" height="26.30" fill="#cb86ae" fill-opacity="0.9"/>
<path d="M368.31 25.33V51.63M373.42 25.33V51.63" stroke="#cb86ae" stroke-width="0.5" fill="none"/>
<rect x="368.06" y="51.63" width="5.6" height="5.76" fill="#e04c7e" fill-opacity="0.9"/>
<path d="M368.31 51.63V57.39M373.42 51.63V57.39" stroke="#e04c7e" stroke-width="0.5" fill="none"/>
<rect x="368.06" y="57.39" width="5.6" height="31.29" fill="#5b8fc7" fill-opacity="0.9"/>
<path d="M368.31 57.39V88.67M373.42 57.39V88.67" stroke="#5b8fc7" stroke-width="0.5" fill="none"/>
<rect x="368.06" y="88.67" width="5.6" height="1.73" fill="#a4523a" fill-opacity="0.9"/>
<path d="M368.31 88.67V90.40M373.42 88.67V90.40" stroke="#a4523a" stroke-width="0.5" fill="none"/>
<rect x="368.26" y="24.00" width="5.199999999999999" height="66.40" fill="none" stroke="#5a2a56" stroke-opacity="0.18" stroke-width="0.4"/>
<rect x="375.37" y="27.25" width="5.6" height="1.34" fill="#dcb940" fill-opacity="0.9"/>
<path d="M375.62 27.25V28.60M380.72 27.25V28.60" stroke="#dcb940" stroke-width="0.5" fill="none"/>
<rect x="375.37" y="28.60" width="5.6" height="26.10" fill="#cb86ae" fill-opacity="0.9"/>
<path d="M375.62 28.60V54.70M380.72 28.60V54.70" stroke="#cb86ae" stroke-width="0.5" fill="none"/>
<rect x="375.37" y="54.70" width="5.6" height="5.37" fill="#e04c7e" fill-opacity="0.9"/>
<path d="M375.62 54.70V60.07M380.72 54.70V60.07" stroke="#e04c7e" stroke-width="0.5" fill="none"/>
<rect x="375.37" y="60.07" width="5.6" height="28.21" fill="#5b8fc7" fill-opacity="0.9"/>
<path d="M375.62 60.07V88.29M380.72 60.07V88.29" stroke="#5b8fc7" stroke-width="0.5" fill="none"/>
<rect x="375.37" y="88.29" width="5.6" height="2.11" fill="#a4523a" fill-opacity="0.9"/>
<path d="M375.62 88.29V90.40M380.72 88.29V90.40" stroke="#a4523a" stroke-width="0.5" fill="none"/>
<rect x="375.57" y="27.45" width="5.199999999999999" height="62.95" fill="none" stroke="#5a2a56" stroke-opacity="0.18" stroke-width="0.4"/>
<rect x="382.68" y="35.70" width="5.6" height="1.15" fill="#dcb940" fill-opacity="0.9"/>
<path d="M382.93 35.70V36.85M388.03 35.70V36.85" stroke="#dcb940" stroke-width="0.5" fill="none"/>
<rect x="382.68" y="36.85" width="5.6" height="22.26" fill="#cb86ae" fill-opacity="0.9"/>
<path d="M382.93 36.85V59.11M388.03 36.85V59.11" stroke="#cb86ae" stroke-width="0.5" fill="none"/>
<rect x="382.68" y="59.11" width="5.6" height="4.22" fill="#e04c7e" fill-opacity="0.9"/>
<path d="M382.93 59.11V63.34M388.03 59.11V63.34" stroke="#e04c7e" stroke-width="0.5" fill="none"/>
<rect x="382.68" y="63.34" width="5.6" height="25.14" fill="#5b8fc7" fill-opacity="0.9"/>
<path d="M382.93 63.34V88.48M388.03 63.34V88.48" stroke="#5b8fc7" stroke-width="0.5" fill="none"/>
<rect x="382.68" y="88.48" width="5.6" height="1.92" fill="#a4523a" fill-opacity="0.9"/>
<path d="M382.93 88.48V90.40M388.03 88.48V90.40" stroke="#a4523a" stroke-width="0.5" fill="none"/>
<rect x="382.88" y="35.90" width="5.199999999999999" height="54.50" fill="none" stroke="#5a2a56" stroke-opacity="0.18" stroke-width="0.4"/>
<rect x="389.98" y="42.80" width="5.6" height="0.38" fill="#dcb940" fill-opacity="0.9"/>
<path d="M390.23 42.80V43.18M395.33 42.80V43.18" stroke="#dcb940" stroke-width="0.5" fill="none"/>
<rect x="389.98" y="43.18" width="5.6" height="22.65" fill="#cb86ae" fill-opacity="0.9"/>
<path d="M390.23 43.18V65.83M395.33 43.18V65.83" stroke="#cb86ae" stroke-width="0.5" fill="none"/>
<rect x="389.98" y="65.83" width="5.6" height="1.54" fill="#e04c7e" fill-opacity="0.9"/>
<path d="M390.23 65.83V67.37M395.33 65.83V67.37" stroke="#e04c7e" stroke-width="0.5" fill="none"/>
<rect x="389.98" y="67.37" width="5.6" height="21.31" fill="#5b8fc7" fill-opacity="0.9"/>
<path d="M390.23 67.37V88.67M395.33 67.37V88.67" stroke="#5b8fc7" stroke-width="0.5" fill="none"/>
<rect x="389.98" y="88.67" width="5.6" height="1.73" fill="#a4523a" fill-opacity="0.9"/>
<path d="M390.23 88.67V90.40M395.33 88.67V90.40" stroke="#a4523a" stroke-width="0.5" fill="none"/>
<rect x="390.18" y="43.00" width="5.199999999999999" height="47.40" fill="none" stroke="#5a2a56" stroke-opacity="0.18" stroke-width="0.4"/>
<rect x="397.28" y="52.97" width="5.6" height="16.70" fill="#cb86ae" fill-opacity="0.9"/>
<path d="M397.53 52.97V69.67M402.63 52.97V69.67" stroke="#cb86ae" stroke-width="0.5" fill="none"/>
<rect x="397.28" y="69.67" width="5.6" height="1.15" fill="#e04c7e" fill-opacity="0.9"/>
<path d="M397.53 69.67V70.82M402.63 69.67V70.82" stroke="#e04c7e" stroke-width="0.5" fill="none"/>
<rect x="397.28" y="70.82" width="5.6" height="18.62" fill="#5b8fc7" fill-opacity="0.9"/>
<path d="M397.53 70.82V89.44M402.63 70.82V89.44" stroke="#5b8fc7" stroke-width="0.5" fill="none"/>
<rect x="397.28" y="89.44" width="5.6" height="0.96" fill="#a4523a" fill-opacity="0.9"/>
<path d="M397.53 89.44V90.40M402.63 89.44V90.40" stroke="#a4523a" stroke-width="0.5" fill="none"/>
<rect x="397.48" y="53.17" width="5.199999999999999" height="37.23" fill="none" stroke="#5a2a56" stroke-opacity="0.18" stroke-width="0.4"/>
<rect x="404.59" y="48.56" width="5.6" height="18.43" fill="#cb86ae" fill-opacity="0.9"/>
<path d="M404.84 48.56V66.98M409.94 48.56V66.98" stroke="#cb86ae" stroke-width="0.5" fill="none"/>
<rect x="404.59" y="66.98" width="5.6" height="1.34" fill="#e04c7e" fill-opacity="0.9"/>
<path d="M404.84 66.98V68.33M409.94 66.98V68.33" stroke="#e04c7e" stroke-width="0.5" fill="none"/>
<rect x="404.59" y="68.33" width="5.6" height="20.73" fill="#5b8fc7" fill-opacity="0.9"/>
<path d="M404.84 68.33V89.06M409.94 68.33V89.06" stroke="#5b8fc7" stroke-width="0.5" fill="none"/>
<rect x="404.59" y="89.06" width="5.6" height="1.34" fill="#a4523a" fill-opacity="0.9"/>
<path d="M404.84 89.06V90.40M409.94 89.06V90.40" stroke="#a4523a" stroke-width="0.5" fill="none"/>
<rect x="404.79" y="48.76" width="5.199999999999999" height="41.64" fill="none" stroke="#5a2a56" stroke-opacity="0.18" stroke-width="0.4"/>
<rect x="411.89" y="53.55" width="5.6" height="14.40" fill="#cb86ae" fill-opacity="0.9"/>
<path d="M412.14 53.55V67.94M417.25 53.55V67.94" stroke="#cb86ae" stroke-width="0.5" fill="none"/>
<rect x="411.89" y="67.94" width="5.6" height="1.34" fill="#e04c7e" fill-opacity="0.9"/>
<path d="M412.14 67.94V69.29M417.25 67.94V69.29" stroke="#e04c7e" stroke-width="0.5" fill="none"/>
<rect x="411.89" y="69.29" width="5.6" height="19.58" fill="#5b8fc7" fill-opacity="0.9"/>
<path d="M412.14 69.29V88.86M417.25 69.29V88.86" stroke="#5b8fc7" stroke-width="0.5" fill="none"/>
<rect x="411.89" y="88.86" width="5.6" height="1.54" fill="#a4523a" fill-opacity="0.9"/>
<path d="M412.14 88.86V90.40M417.25 88.86V90.40" stroke="#a4523a" stroke-width="0.5" fill="none"/>
<rect x="412.09" y="53.75" width="5.199999999999999" height="36.65" fill="none" stroke="#5a2a56" stroke-opacity="0.18" stroke-width="0.4"/>
<rect x="419.20" y="47.60" width="5.6" height="22.65" fill="#cb86ae" fill-opacity="0.9"/>
<path d="M419.45 47.60V70.25M424.55 47.60V70.25" stroke="#cb86ae" stroke-width="0.5" fill="none"/>
<rect x="419.20" y="70.25" width="5.6" height="1.15" fill="#e04c7e" fill-opacity="0.9"/>
<path d="M419.45 70.25V71.40M424.55 70.25V71.40" stroke="#e04c7e" stroke-width="0.5" fill="none"/>
<rect x="419.20" y="71.40" width="5.6" height="17.27" fill="#5b8fc7" fill-opacity="0.9"/>
<path d="M419.45 71.40V88.67M424.55 71.40V88.67" stroke="#5b8fc7" stroke-width="0.5" fill="none"/>
<rect x="419.20" y="88.67" width="5.6" height="1.73" fill="#a4523a" fill-opacity="0.9"/>
<path d="M419.45 88.67V90.40M424.55 88.67V90.40" stroke="#a4523a" stroke-width="0.5" fill="none"/>
<rect x="419.40" y="47.80" width="5.199999999999999" height="42.60" fill="none" stroke="#5a2a56" stroke-opacity="0.18" stroke-width="0.4"/>
<rect x="426.50" y="43.38" width="5.6" height="25.91" fill="#cb86ae" fill-opacity="0.9"/>
<path d="M426.75 43.38V69.29M431.86 43.38V69.29" stroke="#cb86ae" stroke-width="0.5" fill="none"/>
<rect x="426.50" y="69.29" width="5.6" height="1.54" fill="#e04c7e" fill-opacity="0.9"/>
<path d="M426.75 69.29V70.82M431.86 69.29V70.82" stroke="#e04c7e" stroke-width="0.5" fill="none"/>
<rect x="426.50" y="70.82" width="5.6" height="17.47" fill="#5b8fc7" fill-opacity="0.9"/>
<path d="M426.75 70.82V88.29M431.86 70.82V88.29" stroke="#5b8fc7" stroke-width="0.5" fill="none"/>
<rect x="426.50" y="88.29" width="5.6" height="2.11" fill="#a4523a" fill-opacity="0.9"/>
<path d="M426.75 88.29V90.40M431.86 88.29V90.40" stroke="#a4523a" stroke-width="0.5" fill="none"/>
<rect x="426.70" y="43.58" width="5.199999999999999" height="46.82" fill="none" stroke="#5a2a56" stroke-opacity="0.18" stroke-width="0.4"/>
<rect x="433.81" y="47.21" width="5.6" height="27.64" fill="#cb86ae" fill-opacity="0.9"/>
<path d="M434.06 47.21V74.85M439.16 47.21V74.85" stroke="#cb86ae" stroke-width="0.5" fill="none"/>
<rect x="433.81" y="74.85" width="5.6" height="1.15" fill="#e04c7e" fill-opacity="0.9"/>
<path d="M434.06 74.85V76.00M439.16 74.85V76.00" stroke="#e04c7e" stroke-width="0.5" fill="none"/>
<rect x="433.81" y="76.00" width="5.6" height="12.86" fill="#5b8fc7" fill-opacity="0.9"/>
<path d="M434.06 76.00V88.86M439.16 76.00V88.86" stroke="#5b8fc7" stroke-width="0.5" fill="none"/>
<rect x="433.81" y="88.86" width="5.6" height="1.54" fill="#a4523a" fill-opacity="0.9"/>
<path d="M434.06 88.86V90.40M439.16 88.86V90.40" stroke="#a4523a" stroke-width="0.5" fill="none"/>
<rect x="434.01" y="47.41" width="5.199999999999999" height="42.99" fill="none" stroke="#5a2a56" stroke-opacity="0.18" stroke-width="0.4"/>
<rect x="441.12" y="49.52" width="5.6" height="28.98" fill="#cb86ae" fill-opacity="0.9"/>
<path d="M441.37 49.52V78.50M446.47 49.52V78.50" stroke="#cb86ae" stroke-width="0.5" fill="none"/>
<rect x="441.12" y="78.50" width="5.6" height="0.96" fill="#e04c7e" fill-opacity="0.9"/>
<path d="M441.37 78.50V79.46M446.47 78.50V79.46" stroke="#e04c7e" stroke-width="0.5" fill="none"/>
<rect x="441.12" y="79.46" width="5.6" height="9.21" fill="#5b8fc7" fill-opacity="0.9"/>
<path d="M441.37 79.46V88.67M446.47 79.46V88.67" stroke="#5b8fc7" stroke-width="0.5" fill="none"/>
<rect x="441.12" y="88.67" width="5.6" height="1.73" fill="#a4523a" fill-opacity="0.9"/>
<path d="M441.37 88.67V90.40M446.47 88.67V90.40" stroke="#a4523a" stroke-width="0.5" fill="none"/>
<rect x="441.31" y="49.72" width="5.199999999999999" height="40.68" fill="none" stroke="#5a2a56" stroke-opacity="0.18" stroke-width="0.4"/>
<rect x="448.42" y="59.69" width="5.6" height="23.03" fill="#cb86ae" fill-opacity="0.9"/>
<path d="M448.67 59.69V82.72M453.77 59.69V82.72" stroke="#cb86ae" stroke-width="0.5" fill="none"/>
<rect x="448.42" y="82.72" width="5.6" height="0.96" fill="#e04c7e" fill-opacity="0.9"/>
<path d="M448.67 82.72V83.68M453.77 82.72V83.68" stroke="#e04c7e" stroke-width="0.5" fill="none"/>
<rect x="448.42" y="83.68" width="5.6" height="5.18" fill="#5b8fc7" fill-opacity="0.9"/>
<path d="M448.67 83.68V88.86M453.77 83.68V88.86" stroke="#5b8fc7" stroke-width="0.5" fill="none"/>
<rect x="448.42" y="88.86" width="5.6" height="1.54" fill="#a4523a" fill-opacity="0.9"/>
<path d="M448.67 88.86V90.40M453.77 88.86V90.40" stroke="#a4523a" stroke-width="0.5" fill="none"/>
<rect x="448.62" y="59.89" width="5.199999999999999" height="30.51" fill="none" stroke="#5a2a56" stroke-opacity="0.18" stroke-width="0.4"/>
<rect x="455.72" y="61.99" width="5.6" height="0.38" fill="#dcb940" fill-opacity="0.9"/>
<path d="M455.97 61.99V62.38M461.07 61.99V62.38" stroke="#dcb940" stroke-width="0.5" fill="none"/>
<rect x="455.72" y="62.38" width="5.6" height="23.22" fill="#cb86ae" fill-opacity="0.9"/>
<path d="M455.97 62.38V85.60M461.07 62.38V85.60" stroke="#cb86ae" stroke-width="0.5" fill="none"/>
<rect x="455.72" y="85.60" width="5.6" height="1.15" fill="#e04c7e" fill-opacity="0.9"/>
<path d="M455.97 85.60V86.75M461.07 85.60V86.75" stroke="#e04c7e" stroke-width="0.5" fill="none"/>
<rect x="455.72" y="86.75" width="5.6" height="2.30" fill="#5b8fc7" fill-opacity="0.9"/>
<path d="M455.97 86.75V89.06M461.07 86.75V89.06" stroke="#5b8fc7" stroke-width="0.5" fill="none"/>
<rect x="455.72" y="89.06" width="5.6" height="1.34" fill="#a4523a" fill-opacity="0.9"/>
<path d="M455.97 89.06V90.40M461.07 89.06V90.40" stroke="#a4523a" stroke-width="0.5" fill="none"/>
<rect x="455.92" y="62.19" width="5.199999999999999" height="28.21" fill="none" stroke="#5a2a56" stroke-opacity="0.18" stroke-width="0.4"/>
<rect x="463.03" y="62.57" width="5.6" height="0.38" fill="#dcb940" fill-opacity="0.9"/>
<path d="M463.28 62.57V62.95M468.38 62.57V62.95" stroke="#dcb940" stroke-width="0.5" fill="none"/>
<rect x="463.03" y="62.95" width="5.6" height="23.99" fill="#cb86ae" fill-opacity="0.9"/>
<path d="M463.28 62.95V86.95M468.38 62.95V86.95" stroke="#cb86ae" stroke-width="0.5" fill="none"/>
<rect x="463.03" y="86.95" width="5.6" height="0.96" fill="#e04c7e" fill-opacity="0.9"/>
<path d="M463.28 86.95V87.90M468.38 86.95V87.90" stroke="#e04c7e" stroke-width="0.5" fill="none"/>
<rect x="463.03" y="87.90" width="5.6" height="1.73" fill="#5b8fc7" fill-opacity="0.9"/>
<path d="M463.28 87.90V89.63M468.38 87.90V89.63" stroke="#5b8fc7" stroke-width="0.5" fill="none"/>
<rect x="463.03" y="89.63" width="5.6" height="0.77" fill="#a4523a" fill-opacity="0.9"/>
<path d="M463.28 89.63V90.40M468.38 89.63V90.40" stroke="#a4523a" stroke-width="0.5" fill="none"/>
<rect x="463.23" y="62.77" width="5.199999999999999" height="27.63" fill="none" stroke="#5a2a56" stroke-opacity="0.18" stroke-width="0.4"/>
<rect x="470.33" y="61.42" width="5.6" height="0.38" fill="#dcb940" fill-opacity="0.9"/>
<path d="M470.58 61.42V61.80M475.69 61.42V61.80" stroke="#dcb940" stroke-width="0.5" fill="none"/>
<rect x="470.33" y="61.80" width="5.6" height="23.03" fill="#cb86ae" fill-opacity="0.9"/>
<path d="M470.58 61.80V84.83M475.69 61.80V84.83" stroke="#cb86ae" stroke-width="0.5" fill="none"/>
<rect x="470.33" y="84.83" width="5.6" height="1.15" fill="#e04c7e" fill-opacity="0.9"/>
<path d="M470.58 84.83V85.99M475.69 84.83V85.99" stroke="#e04c7e" stroke-width="0.5" fill="none"/>
<rect x="470.33" y="85.99" width="5.6" height="3.07" fill="#5b8fc7" fill-opacity="0.9"/>
<path d="M470.58 85.99V89.06M475.69 85.99V89.06" stroke="#5b8fc7" stroke-width="0.5" fill="none"/>
<rect x="470.33" y="89.06" width="5.6" height="1.34" fill="#a4523a" fill-opacity="0.9"/>
<path d="M470.58 89.06V90.40M475.69 89.06V90.40" stroke="#a4523a" stroke-width="0.5" fill="none"/>
<rect x="470.53" y="61.62" width="5.199999999999999" height="28.78" fill="none" stroke="#5a2a56" stroke-opacity="0.18" stroke-width="0.4"/>
<rect x="477.64" y="59.50" width="5.6" height="0.38" fill="#dcb940" fill-opacity="0.9"/>
<path d="M477.89 59.50V59.88M482.99 59.50V59.88" stroke="#dcb940" stroke-width="0.5" fill="none"/>
<rect x="477.64" y="59.88" width="5.6" height="20.92" fill="#cb86ae" fill-opacity="0.9"/>
<path d="M477.89 59.88V80.80M482.99 59.88V80.80" stroke="#cb86ae" stroke-width="0.5" fill="none"/>
<rect x="477.64" y="80.80" width="5.6" height="1.34" fill="#e04c7e" fill-opacity="0.9"/>
<path d="M477.89 80.80V82.15M482.99 80.80V82.15" stroke="#e04c7e" stroke-width="0.5" fill="none"/>
<rect x="477.64" y="82.15" width="5.6" height="6.53" fill="#5b8fc7" fill-opacity="0.9"/>
<path d="M477.89 82.15V88.67M482.99 82.15V88.67" stroke="#5b8fc7" stroke-width="0.5" fill="none"/>
<rect x="477.64" y="88.67" width="5.6" height="1.73" fill="#a4523a" fill-opacity="0.9"/>
<path d="M477.89 88.67V90.40M482.99 88.67V90.40" stroke="#a4523a" stroke-width="0.5" fill="none"/>
<rect x="477.84" y="59.70" width="5.199999999999999" height="30.70" fill="none" stroke="#5a2a56" stroke-opacity="0.18" stroke-width="0.4"/>
<rect x="484.94" y="57.77" width="5.6" height="0.38" fill="#dcb940" fill-opacity="0.9"/>
<path d="M485.19 57.77V58.15M490.30 57.77V58.15" stroke="#dcb940" stroke-width="0.5" fill="none"/>
<rect x="484.94" y="58.15" width="5.6" height="17.47" fill="#cb86ae" fill-opacity="0.9"/>
<path d="M485.19 58.15V75.62M490.30 58.15V75.62" stroke="#cb86ae" stroke-width="0.5" fill="none"/>
<rect x="484.94" y="75.62" width="5.6" height="1.34" fill="#e04c7e" fill-opacity="0.9"/>
<path d="M485.19 75.62V76.96M490.30 75.62V76.96" stroke="#e04c7e" stroke-width="0.5" fill="none"/>
<rect x="484.94" y="76.96" width="5.6" height="11.13" fill="#5b8fc7" fill-opacity="0.9"/>
<path d="M485.19 76.96V88.10M490.30 76.96V88.10" stroke="#5b8fc7" stroke-width="0.5" fill="none"/>
<rect x="484.94" y="88.10" width="5.6" height="2.30" fill="#a4523a" fill-opacity="0.9"/>
<path d="M485.19 88.10V90.40M490.30 88.10V90.40" stroke="#a4523a" stroke-width="0.5" fill="none"/>
<rect x="485.14" y="57.97" width="5.199999999999999" height="32.43" fill="none" stroke="#5a2a56" stroke-opacity="0.18" stroke-width="0.4"/>
<rect x="492.25" y="55.28" width="5.6" height="16.70" fill="#cb86ae" fill-opacity="0.9"/>
<path d="M492.50 55.28V71.97M497.60 55.28V71.97" stroke="#cb86ae" stroke-width="0.5" fill="none"/>
<rect x="492.25" y="71.97" width="5.6" height="1.34" fill="#e04c7e" fill-opacity="0.9"/>
<path d="M492.50 71.97V73.32M497.60 71.97V73.32" stroke="#e04c7e" stroke-width="0.5" fill="none"/>
<rect x="492.25" y="73.32" width="5.6" height="15.55" fill="#5b8fc7" fill-opacity="0.9"/>
<path d="M492.50 73.32V88.86M497.60 73.32V88.86" stroke="#5b8fc7" stroke-width="0.5" fill="none"/>
<rect x="492.25" y="88.86" width="5.6" height="1.54" fill="#a4523a" fill-opacity="0.9"/>
<path d="M492.50 88.86V90.40M497.60 88.86V90.40" stroke="#a4523a" stroke-width="0.5" fill="none"/>
<rect x="492.45" y="55.48" width="5.199999999999999" height="34.92" fill="none" stroke="#5a2a56" stroke-opacity="0.18" stroke-width="0.4"/>
<rect x="499.56" y="43.38" width="5.6" height="23.42" fill="#cb86ae" fill-opacity="0.9"/>
<path d="M499.81 43.38V66.79M504.91 43.38V66.79" stroke="#cb86ae" stroke-width="0.5" fill="none"/>
<rect x="499.56" y="66.79" width="5.6" height="1.34" fill="#e04c7e" fill-opacity="0.9"/>
<path d="M499.81 66.79V68.14M504.91 66.79V68.14" stroke="#e04c7e" stroke-width="0.5" fill="none"/>
<rect x="499.56" y="68.14" width="5.6" height="19.96" fill="#5b8fc7" fill-opacity="0.9"/>
<path d="M499.81 68.14V88.10M504.91 68.14V88.10" stroke="#5b8fc7" stroke-width="0.5" fill="none"/>
<rect x="499.56" y="88.10" width="5.6" height="2.30" fill="#a4523a" fill-opacity="0.9"/>
<path d="M499.81 88.10V90.40M504.91 88.10V90.40" stroke="#a4523a" stroke-width="0.5" fill="none"/>
<rect x="499.75" y="43.58" width="5.199999999999999" height="46.82" fill="none" stroke="#5a2a56" stroke-opacity="0.18" stroke-width="0.4"/>
<rect x="506.86" y="53.55" width="5.6" height="17.66" fill="#cb86ae" fill-opacity="0.9"/>
<path d="M507.11 53.55V71.21M512.21 53.55V71.21" stroke="#cb86ae" stroke-width="0.5" fill="none"/>
<rect x="506.86" y="71.21" width="5.6" height="1.73" fill="#e04c7e" fill-opacity="0.9"/>
<path d="M507.11 71.21V72.93M512.21 71.21V72.93" stroke="#e04c7e" stroke-width="0.5" fill="none"/>
<rect x="506.86" y="72.93" width="5.6" height="15.93" fill="#5b8fc7" fill-opacity="0.9"/>
<path d="M507.11 72.93V88.86M512.21 72.93V88.86" stroke="#5b8fc7" stroke-width="0.5" fill="none"/>
<rect x="506.86" y="88.86" width="5.6" height="1.54" fill="#a4523a" fill-opacity="0.9"/>
<path d="M507.11 88.86V90.40M512.21 88.86V90.40" stroke="#a4523a" stroke-width="0.5" fill="none"/>
<rect x="507.06" y="53.75" width="5.199999999999999" height="36.65" fill="none" stroke="#5a2a56" stroke-opacity="0.18" stroke-width="0.4"/>
<g clip-path="url(#legclip)">
<circle cx="531.2" cy="15.80" r="2.0" fill="#b8936c"/>
<text x="537.6" y="17.9" font-size="6.5" fill="#4a4a4a" text-anchor="start" font-weight="normal" textLength="13.26" lengthAdjust="spacingAndGlyphs">other</text>
<text x="593.2" y="17.9" font-size="6.5" fill="#4a4a4a" text-anchor="end" font-weight="normal" textLength="14.23" lengthAdjust="spacingAndGlyphs">0 qps</text>
<circle cx="531.2" cy="26.98" r="2.0" fill="#dcb940"/>
<text x="537.6" y="29.08" font-size="6.5" fill="#4a4a4a" text-anchor="start" font-weight="normal" textLength="10.35" lengthAdjust="spacingAndGlyphs">Use</text>
<text x="593.2" y="29.08" font-size="6.5" fill="#4a4a4a" text-anchor="end" font-weight="normal" textLength="22.32" lengthAdjust="spacingAndGlyphs">0.05 qps</text>
<circle cx="531.2" cy="38.16" r="2.0" fill="#cb86ae"/>
<text x="537.6" y="40.26" font-size="6.5" fill="#4a4a4a" text-anchor="start" font-weight="normal" textLength="18.76" lengthAdjust="spacingAndGlyphs">Update</text>
<text x="593.2" y="40.26" font-size="6.5" fill="#4a4a4a" text-anchor="end" font-weight="normal" textLength="25.55" lengthAdjust="spacingAndGlyphs">95.49 qps</text>
<circle cx="531.2" cy="49.34" r="2.0" fill="#7e58c4"/>
<text x="537.6" y="51.44" font-size="6.5" fill="#4a4a4a" text-anchor="start" font-weight="normal" textLength="14.55" lengthAdjust="spacingAndGlyphs">Show</text>
<text x="593.2" y="51.44" font-size="6.5" fill="#4a4a4a" text-anchor="end" font-weight="normal" textLength="14.23" lengthAdjust="spacingAndGlyphs">0 qps</text>
<circle cx="531.2" cy="60.52" r="2.0" fill="#e04c7e"/>
<text x="537.6" y="62.62" font-size="6.5" fill="#4a4a4a" text-anchor="start" font-weight="normal" textLength="8.73" lengthAdjust="spacingAndGlyphs">Set</text>
<text x="593.2" y="62.62" font-size="6.5" fill="#4a4a4a" text-anchor="end" font-weight="normal" textLength="22.32" lengthAdjust="spacingAndGlyphs">7.62 qps</text>
<circle cx="531.2" cy="71.70" r="2.0" fill="#5b8fc7"/>
<text x="537.6" y="73.8" font-size="6.5" fill="#4a4a4a" text-anchor="start" font-weight="normal" textLength="16.17" lengthAdjust="spacingAndGlyphs">Select</text>
<text x="593.2" y="73.8" font-size="6.5" fill="#4a4a4a" text-anchor="end" font-weight="normal" textLength="25.55" lengthAdjust="spacingAndGlyphs">87.10 qps</text>
<circle cx="531.2" cy="82.88" r="2.0" fill="#3faa84"/>
<text x="537.6" y="84.98" font-size="6.5" fill="#4a4a4a" text-anchor="start" font-weight="normal" textLength="22.31" lengthAdjust="spacingAndGlyphs">Rollback</text>
<text x="593.2" y="84.98" font-size="6.5" fill="#4a4a4a" text-anchor="end" font-weight="normal" textLength="14.23" lengthAdjust="spacingAndGlyphs">0 qps</text>
<circle cx="531.2" cy="94.06" r="2.0" fill="#e0593c"/>
<text x="537.6" y="96.16" font-size="6.5" fill="#4a4a4a" text-anchor="start" font-weight="normal" textLength="21.34" lengthAdjust="spacingAndGlyphs">Replace</text>
<text x="593.2" y="96.16" font-size="6.5" fill="#4a4a4a" text-anchor="end" font-weight="normal" textLength="14.23" lengthAdjust="spacingAndGlyphs">0 qps</text>
<circle cx="531.2" cy="105.24" r="2.0" fill="#e8a48c"/>
<text x="537.6" y="107.34" font-size="6.5" fill="#4a4a4a" text-anchor="start" font-weight="normal" textLength="14.55" lengthAdjust="spacingAndGlyphs">Insert</text>
<text x="593.2" y="107.34" font-size="6.5" fill="#4a4a4a" text-anchor="end" font-weight="normal" textLength="22.32" lengthAdjust="spacingAndGlyphs">5.47 qps</text>
</g>
<rect x="522" y="101" width="80" height="6" fill="url(#fade)"/>
<rect x="596.6" y="7" width="1.3" height="45" rx="0.6" fill="#b5b5b5"/>
<text x="23" y="123.6" font-size="8.2" fill="#1f1f1f" text-anchor="start" font-weight="bold" textLength="16.2" lengthAdjust="spacingAndGlyphs">延迟</text>
<line x1="54.3" y1="143.1" x2="514.5" y2="143.1" stroke="#cfd3d8" stroke-width="0.7" stroke-dasharray="1.2 1.8"/>
<text x="49" y="145.0" font-size="5.6" fill="#707070" text-anchor="end" font-weight="normal" textLength="20.19" lengthAdjust="spacingAndGlyphs">3.33 min</text>
<line x1="54.3" y1="161.5" x2="514.5" y2="161.5" stroke="#cfd3d8" stroke-width="0.7" stroke-dasharray="1.2 1.8"/>
<text x="49" y="163.4" font-size="5.6" fill="#707070" text-anchor="end" font-weight="normal" textLength="20.19" lengthAdjust="spacingAndGlyphs">2.50 min</text>
<line x1="54.3" y1="179.9" x2="514.5" y2="179.9" stroke="#cfd3d8" stroke-width="0.7" stroke-dasharray="1.2 1.8"/>
<text x="49" y="181.8" font-size="5.6" fill="#707070" text-anchor="end" font-weight="normal" textLength="20.19" lengthAdjust="spacingAndGlyphs">1.67 min</text>
<line x1="54.3" y1="198.3" x2="514.5" y2="198.3" stroke="#cfd3d8" stroke-width="0.7" stroke-dasharray="1.2 1.8"/>
<text x="49" y="200.20000000000002" font-size="5.6" fill="#707070" text-anchor="end" font-weight="normal" textLength="17.27" lengthAdjust="spacingAndGlyphs">50.00 s</text>
<line x1="54.3" y1="216.7" x2="514.5" y2="216.7" stroke="#cfd3d8" stroke-width="0.7" stroke-dasharray="1.2 1.8"/>
<text x="49" y="218.6" font-size="5.6" fill="#707070" text-anchor="end" font-weight="normal" textLength="9.95" lengthAdjust="spacingAndGlyphs">0 ns</text>
<line x1="54.3" y1="137" x2="54.3" y2="216.7" stroke="#eceef0" stroke-width="0.8"/>
<line x1="122.1" y1="137" x2="122.1" y2="216.7" stroke="#cfd3d8" stroke-width="0.7" stroke-dasharray="1.2 1.8"/>
<text x="122.1" y="226" font-size="5.6" fill="#707070" text-anchor="middle" font-weight="normal" textLength="12.3" lengthAdjust="spacingAndGlyphs">08:00</text>
<line x1="197.3" y1="137" x2="197.3" y2="216.7" stroke="#cfd3d8" stroke-width="0.7" stroke-dasharray="1.2 1.8"/>
<text x="197.3" y="226" font-size="5.6" fill="#707070" text-anchor="middle" font-weight="normal" textLength="12.3" lengthAdjust="spacingAndGlyphs">08:05</text>
<line x1="272.5" y1="137" x2="272.5" y2="216.7" stroke="#cfd3d8" stroke-width="0.7" stroke-dasharray="1.2 1.8"/>
<text x="272.5" y="226" font-size="5.6" fill="#707070" text-anchor="middle" font-weight="normal" textLength="12.3" lengthAdjust="spacingAndGlyphs">08:10</text>
<line x1="347.8" y1="137" x2="347.8" y2="216.7" stroke="#cfd3d8" stroke-width="0.7" stroke-dasharray="1.2 1.8"/>
<text x="347.8" y="226" font-size="5.6" fill="#707070" text-anchor="middle" font-weight="normal" textLength="12.3" lengthAdjust="spacingAndGlyphs">08:15</text>
<line x1="423.0" y1="137" x2="423.0" y2="216.7" stroke="#cfd3d8" stroke-width="0.7" stroke-dasharray="1.2 1.8"/>
<text x="423.0" y="226" font-size="5.6" fill="#707070" text-anchor="middle" font-weight="normal" textLength="12.3" lengthAdjust="spacingAndGlyphs">08:20</text>
<line x1="498.2" y1="137" x2="498.2" y2="216.7" stroke="#cfd3d8" stroke-width="0.7" stroke-dasharray="1.2 1.8"/>
<text x="498.2" y="226" font-size="5.6" fill="#707070" text-anchor="middle" font-weight="normal" textLength="12.3" lengthAdjust="spacingAndGlyphs">08:25</text>
<polyline points="54.3,216.9 513.5,216.9" fill="none" stroke="#3faa84" stroke-width="1.0" stroke-linejoin="round" stroke-linecap="round"/>
<polyline points="54.3,216.8 513.5,216.8" fill="none" stroke="#4b86c5" stroke-width="1.1" stroke-linejoin="round" stroke-linecap="round"/>
<polyline points="54.3,206.0 61.8,206.5 69.3,206.3 76.9,213.0 84.4,216.4 91.9,216.6 99.4,216.6 106.9,216.6 114.5,209.1 122.0,177.8 129.5,188.3 137.0,198.2 144.5,193.0 152.1,137.9 159.6,157.0 167.1,204.4 174.6,216.2 182.1,216.6 189.7,216.6 197.2,216.6 204.7,216.6 212.2,216.6 219.7,216.6 227.3,216.6 234.8,216.6 242.3,216.6 249.8,216.6 257.3,212.3 264.9,208.4 272.4,205.2 279.9,203.1 287.4,211.7 294.9,216.4 302.5,216.6 310.0,216.6 317.5,216.6 325.0,216.6 332.5,216.6 340.1,216.6 347.6,216.6 355.1,216.6 362.6,216.6 370.1,216.6 377.7,216.6 385.2,216.6 392.7,214.6 400.2,216.6 407.7,216.6 415.3,216.6 422.8,214.1 430.3,213.1 437.8,211.5 445.3,211.0 452.9,205.5 460.4,203.1 467.9,194.5 475.4,200.3 482.9,210.4 490.5,213.6 498.0,216.6 505.5,216.6 513.0,216.6" fill="none" stroke="#c73d6b" stroke-width="1.15" stroke-linejoin="round" stroke-linecap="round"/>
<circle cx="531.2" cy="141.80" r="2.0" fill="#3faa84"/>
<text x="537.6" y="143.9" font-size="6.5" fill="#4a4a4a" text-anchor="start" font-weight="normal" textLength="11.64" lengthAdjust="spacingAndGlyphs">95%</text>
<text x="601.3" y="143.9" font-size="6.5" fill="#4a4a4a" text-anchor="end" font-weight="normal" textLength="20.69" lengthAdjust="spacingAndGlyphs">3.41 ms</text>
<circle cx="531.2" cy="153.10" r="2.0" fill="#4b86c5"/>
<text x="537.6" y="155.2" font-size="6.5" fill="#4a4a4a" text-anchor="start" font-weight="normal" textLength="11.64" lengthAdjust="spacingAndGlyphs">99%</text>
<text x="601.3" y="155.2" font-size="6.5" fill="#4a4a4a" text-anchor="end" font-weight="normal" textLength="20.69" lengthAdjust="spacingAndGlyphs">7.38 ms</text>
<circle cx="531.2" cy="164.40" r="2.0" fill="#c73d6b"/>
<text x="537.6" y="166.5" font-size="6.5" fill="#4a4a4a" text-anchor="start" font-weight="normal" textLength="16.5" lengthAdjust="spacingAndGlyphs">99.9%</text>
<text x="601.3" y="166.5" font-size="6.5" fill="#4a4a4a" text-anchor="end" font-weight="normal" textLength="23.93" lengthAdjust="spacingAndGlyphs">29.57 ms</text>
<text x="23" y="250.4" font-size="8.4" fill="#262626" text-anchor="start" font-weight="bold" textLength="14.8" lengthAdjust="spacingAndGlyphs">CPU</text>
<text x="40.9" y="250.5" font-size="8.2" fill="#1f1f1f" text-anchor="start" font-weight="bold" textLength="24.4" lengthAdjust="spacingAndGlyphs">使用率</text>
<line x1="54.3" y1="263.7" x2="514.5" y2="263.7" stroke="#cfd3d8" stroke-width="0.7" stroke-dasharray="1.2 1.8"/>
<text x="49" y="265.59999999999997" font-size="5.6" fill="#707070" text-anchor="end" font-weight="normal" textLength="20.78" lengthAdjust="spacingAndGlyphs">100.00%</text>
<line x1="54.3" y1="279.6" x2="514.5" y2="279.6" stroke="#cfd3d8" stroke-width="0.7" stroke-dasharray="1.2 1.8"/>
<text x="49" y="281.5" font-size="5.6" fill="#707070" text-anchor="end" font-weight="normal" textLength="17.85" lengthAdjust="spacingAndGlyphs">80.00%</text>
<line x1="54.3" y1="295.4" x2="514.5" y2="295.4" stroke="#cfd3d8" stroke-width="0.7" stroke-dasharray="1.2 1.8"/>
<text x="49" y="297.29999999999995" font-size="5.6" fill="#707070" text-anchor="end" font-weight="normal" textLength="17.85" lengthAdjust="spacingAndGlyphs">60.00%</text>
<line x1="54.3" y1="311.3" x2="514.5" y2="311.3" stroke="#cfd3d8" stroke-width="0.7" stroke-dasharray="1.2 1.8"/>
<text x="49" y="313.2" font-size="5.6" fill="#707070" text-anchor="end" font-weight="normal" textLength="17.85" lengthAdjust="spacingAndGlyphs">40.00%</text>
<line x1="54.3" y1="327.1" x2="514.5" y2="327.1" stroke="#cfd3d8" stroke-width="0.7" stroke-dasharray="1.2 1.8"/>
<text x="49" y="329.0" font-size="5.6" fill="#707070" text-anchor="end" font-weight="normal" textLength="17.85" lengthAdjust="spacingAndGlyphs">20.00%</text>
<line x1="54.3" y1="343.0" x2="514.5" y2="343.0" stroke="#cfd3d8" stroke-width="0.7" stroke-dasharray="1.2 1.8"/>
<text x="49" y="344.9" font-size="5.6" fill="#707070" text-anchor="end" font-weight="normal" textLength="7.61" lengthAdjust="spacingAndGlyphs">0%</text>
<line x1="54.3" y1="258" x2="54.3" y2="343.0" stroke="#eceef0" stroke-width="0.8"/>
<line x1="122.1" y1="258" x2="122.1" y2="343.0" stroke="#cfd3d8" stroke-width="0.7" stroke-dasharray="1.2 1.8"/>
<text x="122.1" y="353.4" font-size="5.6" fill="#707070" text-anchor="middle" font-weight="normal" textLength="12.3" lengthAdjust="spacingAndGlyphs">08:00</text>
<line x1="197.3" y1="258" x2="197.3" y2="343.0" stroke="#cfd3d8" stroke-width="0.7" stroke-dasharray="1.2 1.8"/>
<text x="197.3" y="353.4" font-size="5.6" fill="#707070" text-anchor="middle" font-weight="normal" textLength="12.3" lengthAdjust="spacingAndGlyphs">08:05</text>
<line x1="272.5" y1="258" x2="272.5" y2="343.0" stroke="#cfd3d8" stroke-width="0.7" stroke-dasharray="1.2 1.8"/>
<text x="272.5" y="353.4" font-size="5.6" fill="#707070" text-anchor="middle" font-weight="normal" textLength="12.3" lengthAdjust="spacingAndGlyphs">08:10</text>
<line x1="347.8" y1="258" x2="347.8" y2="343.0" stroke="#cfd3d8" stroke-width="0.7" stroke-dasharray="1.2 1.8"/>
<text x="347.8" y="353.4" font-size="5.6" fill="#707070" text-anchor="middle" font-weight="normal" textLength="12.3" lengthAdjust="spacingAndGlyphs">08:15</text>
<line x1="423.0" y1="258" x2="423.0" y2="343.0" stroke="#cfd3d8" stroke-width="0.7" stroke-dasharray="1.2 1.8"/>
<text x="423.0" y="353.4" font-size="5.6" fill="#707070" text-anchor="middle" font-weight="normal" textLength="12.3" lengthAdjust="spacingAndGlyphs">08:20</text>
<line x1="498.2" y1="258" x2="498.2" y2="343.0" stroke="#cfd3d8" stroke-width="0.7" stroke-dasharray="1.2 1.8"/>
<text x="498.2" y="353.4" font-size="5.6" fill="#707070" text-anchor="middle" font-weight="normal" textLength="12.3" lengthAdjust="spacingAndGlyphs">08:25</text>
<polyline points="54.3,341.2 61.8,341.0 69.3,341.5 76.9,341.6 84.4,341.1 91.9,339.8 99.4,341.4 106.9,341.4 114.5,341.0 122.0,341.3 129.5,341.7 137.0,341.3 144.5,334.3 152.1,341.5 159.6,341.6 167.1,341.1 174.6,341.1 182.1,341.6 189.7,341.5 197.2,341.0 204.7,341.3 212.2,341.6 219.7,341.3 227.3,341.0 234.8,341.4 242.3,341.6 249.8,341.2 257.3,341.1 264.9,340.2 272.4,341.4 279.9,341.1 287.4,341.2 294.9,341.6 302.5,341.4 310.0,341.0 317.5,341.4 325.0,341.6 332.5,341.2 340.1,341.1 347.6,341.5 355.1,341.4 362.6,340.2 370.1,337.4 377.7,337.7 385.2,337.8 392.7,337.2 400.2,336.3 407.7,334.0 415.3,337.4 422.8,338.2 430.3,338.6 437.8,340.2 445.3,341.7 452.9,338.6 460.4,341.4 467.9,341.4 475.4,338.5 482.9,341.4 490.5,341.7 498.0,341.3 505.5,341.0 513.0,341.4" fill="none" stroke="#3faa84" stroke-width="1.05" stroke-linejoin="round" stroke-linecap="round"/>
<polyline points="54.3,340.9 61.8,341.0 69.3,341.4 76.9,341.2 84.4,340.9 91.9,341.2 99.4,341.4 106.9,341.0 114.5,340.9 122.0,341.3 129.5,341.3 137.0,340.9 144.5,341.0 152.1,341.4 159.6,341.2 167.1,341.4 174.6,338.5 182.1,338.2 189.7,338.2 197.2,338.2 204.7,338.2 212.2,338.2 219.7,338.2 227.3,338.2 234.8,338.2 242.3,338.2 249.8,338.3 257.3,341.8 264.9,340.3 272.4,341.0 279.9,341.7 287.4,339.1 294.9,341.0 302.5,340.6 310.0,338.2 317.5,338.2 325.0,338.2 332.5,338.2 340.1,338.2 347.6,338.4 355.1,338.4 362.6,338.4 370.1,340.2 377.7,341.8 385.2,341.0 392.7,340.9 400.2,341.3 407.7,341.3 415.3,340.9 422.8,341.0 430.3,341.4 437.8,341.2 445.3,340.9 452.9,341.2 460.4,341.4 467.9,341.0 475.4,341.0 482.9,339.8 490.5,338.4 498.0,340.4 505.5,338.6 513.0,338.4" fill="none" stroke="#4b86c5" stroke-width="1.05" stroke-linejoin="round" stroke-linecap="round"/>
<polyline points="54.3,341.4 61.8,341.7 69.3,341.8 76.9,341.4 84.4,341.4 91.9,341.8 99.4,341.7 106.9,341.3 114.5,341.5 122.0,341.8 129.5,341.5 137.0,341.3 144.5,341.7 152.1,341.8 159.6,341.4 167.1,340.6 174.6,340.2 182.1,340.2 189.7,341.4 197.2,341.5 204.7,341.8 212.2,341.6 219.7,341.3 227.3,341.6 234.8,341.8 242.3,341.5 249.8,341.4 257.3,341.7 264.9,341.7 272.4,341.4 279.9,341.5 287.4,341.8 294.9,333.9 302.5,341.3 310.0,341.6 317.5,341.8 325.0,341.5 332.5,341.4 340.1,341.7 347.6,341.7 355.1,341.4 362.6,341.4 370.1,341.8 377.7,341.6 385.2,341.3 392.7,341.6 400.2,341.8 407.7,341.5 415.3,341.3 422.8,341.7 430.3,341.8 437.8,341.4 445.3,341.4 452.9,341.8 460.4,341.7 467.9,341.3 475.4,341.5 482.9,341.8 490.5,341.6 498.0,341.3 505.5,341.6 513.0,341.8" fill="none" stroke="#c73d6b" stroke-width="1.05" stroke-linejoin="round" stroke-linecap="round"/>
<polyline points="54.3,341.5 61.8,341.8 69.3,341.4 76.9,337.1 84.4,337.1 91.9,337.1 99.4,340.2 106.9,341.8 114.5,341.7 122.0,341.7 129.5,341.4 137.0,341.5 144.5,341.8 152.1,341.6 159.6,341.8 167.1,337.4 174.6,332.8 182.1,336.3 189.7,335.9 197.2,336.7 204.7,337.4 212.2,341.7 219.7,341.5 227.3,341.8 234.8,341.6 242.3,341.3 249.8,341.6 257.3,341.8 264.9,341.5 272.4,341.4 279.9,341.7 287.4,341.8 294.9,341.4 302.5,341.4 310.0,336.8 317.5,336.4 325.0,336.0 332.5,336.3 340.1,337.4 347.6,338.2 355.1,338.8 362.6,339.0 370.1,335.3 377.7,339.4 385.2,341.8 392.7,341.8 400.2,341.7 407.7,341.4 415.3,341.5 422.8,341.8 430.3,341.6 437.8,341.3 445.3,341.6 452.9,341.8 460.4,341.5 467.9,341.4 475.4,341.7 482.9,341.7 490.5,341.4 498.0,341.5 505.5,341.8 513.0,341.6" fill="none" stroke="#7e58c4" stroke-width="1.05" stroke-linejoin="round" stroke-linecap="round"/>
<polyline points="54.3,341.5 61.8,341.6 69.3,341.2 76.9,341.3 84.4,341.6 91.9,341.5 99.4,341.2 106.9,341.4 114.5,341.7 122.0,341.4 129.5,341.2 137.0,341.5 144.5,341.6 152.1,341.3 159.6,341.2 167.1,341.6 174.6,339.8 182.1,339.8 189.7,340.2 197.2,341.6 204.7,338.6 212.2,339.4 219.7,341.5 227.3,341.6 234.8,341.3 242.3,341.2 249.8,341.6 257.3,341.6 264.9,341.2 272.4,341.3 279.9,341.6 287.4,341.4 294.9,341.2 302.5,341.4 310.0,341.6 317.5,341.3 325.0,340.2 332.5,340.2 340.1,341.6 347.6,341.2 355.1,341.3 362.6,341.6 370.1,341.5 377.7,341.2 385.2,341.4 392.7,341.7 400.2,341.4 407.7,341.2 415.3,341.5 422.8,341.6 430.3,341.3 437.8,341.3 445.3,341.6 452.9,341.5 460.4,341.2 467.9,341.4 475.4,341.7 482.9,341.4 490.5,341.2 498.0,341.5 505.5,341.6 513.0,341.3" fill="none" stroke="#d187b4" stroke-width="1.05" stroke-linejoin="round" stroke-linecap="round"/>
<polyline points="54.3,341.3 61.8,341.1 69.3,339.8 76.9,341.1 84.4,341.3 91.9,341.0 99.4,340.9 106.9,341.2 114.5,341.3 122.0,340.9 129.5,341.0 137.0,341.3 144.5,341.2 152.1,340.9 159.6,341.1 167.1,341.3 174.6,340.2 182.1,339.8 189.7,340.2 197.2,341.3 204.7,340.9 212.2,340.9 219.7,341.3 227.3,341.2 234.8,340.9 242.3,341.0 249.8,341.3 257.3,341.1 264.9,340.9 272.4,341.2 279.9,341.3 287.4,341.0 294.9,337.8 302.5,341.3 310.0,341.2 317.5,340.9 325.0,341.0 332.5,341.3 340.1,341.1 347.6,340.9 355.1,341.1 362.6,341.3 370.1,341.0 377.7,340.9 385.2,341.2 392.7,341.3 400.2,340.9 407.7,341.0 415.3,341.3 422.8,341.2 430.3,340.9 437.8,331.4 445.3,341.0 452.9,341.0 460.4,340.9 467.9,341.2 475.4,341.3 482.9,340.9 490.5,340.9 498.0,341.3 505.5,341.2 513.0,340.9" fill="none" stroke="#dcb940" stroke-width="1.05" stroke-linejoin="round" stroke-linecap="round"/>
<circle cx="531.2" cy="268.60" r="2.0" fill="#3faa84"/>
<text x="537.6" y="270.7" font-size="6.5" fill="#4a4a4a" text-anchor="start" font-weight="normal" textLength="42.4" lengthAdjust="spacingAndGlyphs">172.23.40.161:...</text>
<text x="601.3" y="270.7" font-size="6.5" fill="#4a4a4a" text-anchor="end" font-weight="normal" textLength="16.5" lengthAdjust="spacingAndGlyphs">1.77%</text>
<circle cx="531.2" cy="279.77" r="2.0" fill="#4b86c5"/>
<text x="537.6" y="281.87" font-size="6.5" fill="#4a4a4a" text-anchor="start" font-weight="normal" textLength="42.4" lengthAdjust="spacingAndGlyphs">172.23.40.162:...</text>
<text x="601.3" y="281.87" font-size="6.5" fill="#4a4a4a" text-anchor="end" font-weight="normal" textLength="16.5" lengthAdjust="spacingAndGlyphs">5.76%</text>
<circle cx="531.2" cy="290.94" r="2.0" fill="#c73d6b"/>
<text x="537.6" y="293.04" font-size="6.5" fill="#4a4a4a" text-anchor="start" font-weight="normal" textLength="42.4" lengthAdjust="spacingAndGlyphs">172.23.40.163:...</text>
<text x="601.3" y="293.04" font-size="6.5" fill="#4a4a4a" text-anchor="end" font-weight="normal" textLength="16.5" lengthAdjust="spacingAndGlyphs">1.71%</text>
<circle cx="531.2" cy="302.11" r="2.0" fill="#7e58c4"/>
<text x="537.6" y="304.21" font-size="6.5" fill="#4a4a4a" text-anchor="start" font-weight="normal" textLength="42.4" lengthAdjust="spacingAndGlyphs">172.23.40.164:...</text>
<text x="601.3" y="304.21" font-size="6.5" fill="#4a4a4a" text-anchor="end" font-weight="normal" textLength="16.5" lengthAdjust="spacingAndGlyphs">2.62%</text>
<circle cx="531.2" cy="313.28" r="2.0" fill="#d187b4"/>
<text x="537.6" y="315.38" font-size="6.5" fill="#4a4a4a" text-anchor="start" font-weight="normal" textLength="42.4" lengthAdjust="spacingAndGlyphs">172.23.40.165:...</text>
<text x="601.3" y="315.38" font-size="6.5" fill="#4a4a4a" text-anchor="end" font-weight="normal" textLength="16.5" lengthAdjust="spacingAndGlyphs">2.08%</text>
<circle cx="531.2" cy="324.45" r="2.0" fill="#dcb940"/>
<text x="537.6" y="326.55" font-size="6.5" fill="#4a4a4a" text-anchor="start" font-weight="normal" textLength="42.4" lengthAdjust="spacingAndGlyphs">172.23.40.166:...</text>
<text x="601.3" y="326.55" font-size="6.5" fill="#4a4a4a" text-anchor="end" font-weight="normal" textLength="16.5" lengthAdjust="spacingAndGlyphs">1.97%</text>
<text x="23.2" y="376.6" font-size="8.2" fill="#1f1f1f" text-anchor="start" font-weight="bold" textLength="40.6" lengthAdjust="spacingAndGlyphs">内存使用率</text>
<line x1="54.3" y1="390.9" x2="514.5" y2="390.9" stroke="#cfd3d8" stroke-width="0.7" stroke-dasharray="1.2 1.8"/>
<text x="49" y="392.79999999999995" font-size="5.6" fill="#707070" text-anchor="end" font-weight="normal" textLength="20.78" lengthAdjust="spacingAndGlyphs">100.00%</text>
<line x1="54.3" y1="406.65" x2="514.5" y2="406.65" stroke="#cfd3d8" stroke-width="0.7" stroke-dasharray="1.2 1.8"/>
<text x="49" y="408.54999999999995" font-size="5.6" fill="#707070" text-anchor="end" font-weight="normal" textLength="17.85" lengthAdjust="spacingAndGlyphs">80.00%</text>
<line x1="54.3" y1="422.4" x2="514.5" y2="422.4" stroke="#cfd3d8" stroke-width="0.7" stroke-dasharray="1.2 1.8"/>
<text x="49" y="424.29999999999995" font-size="5.6" fill="#707070" text-anchor="end" font-weight="normal" textLength="17.85" lengthAdjust="spacingAndGlyphs">60.00%</text>
<line x1="54.3" y1="438.15" x2="514.5" y2="438.15" stroke="#cfd3d8" stroke-width="0.7" stroke-dasharray="1.2 1.8"/>
<text x="49" y="440.04999999999995" font-size="5.6" fill="#707070" text-anchor="end" font-weight="normal" textLength="17.85" lengthAdjust="spacingAndGlyphs">40.00%</text>
<line x1="54.3" y1="453.9" x2="514.5" y2="453.9" stroke="#cfd3d8" stroke-width="0.7" stroke-dasharray="1.2 1.8"/>
<text x="49" y="455.79999999999995" font-size="5.6" fill="#707070" text-anchor="end" font-weight="normal" textLength="17.85" lengthAdjust="spacingAndGlyphs">20.00%</text>
<line x1="54.3" y1="385" x2="54.3" y2="469" stroke="#eceef0" stroke-width="0.8"/>
<line x1="122.1" y1="385" x2="122.1" y2="469" stroke="#cfd3d8" stroke-width="0.7" stroke-dasharray="1.2 1.8"/>
<line x1="197.3" y1="385" x2="197.3" y2="469" stroke="#cfd3d8" stroke-width="0.7" stroke-dasharray="1.2 1.8"/>
<line x1="272.5" y1="385" x2="272.5" y2="469" stroke="#cfd3d8" stroke-width="0.7" stroke-dasharray="1.2 1.8"/>
<line x1="347.8" y1="385" x2="347.8" y2="469" stroke="#cfd3d8" stroke-width="0.7" stroke-dasharray="1.2 1.8"/>
<line x1="423.0" y1="385" x2="423.0" y2="469" stroke="#cfd3d8" stroke-width="0.7" stroke-dasharray="1.2 1.8"/>
<line x1="498.2" y1="385" x2="498.2" y2="469" stroke="#cfd3d8" stroke-width="0.7" stroke-dasharray="1.2 1.8"/>
<polyline points="54.3,460.0 61.8,460.0 69.3,460.0 76.9,460.0 84.4,460.0 91.9,460.0 99.4,460.0 106.9,460.0 114.5,460.0 122.0,460.0 129.5,460.0 137.0,460.0 144.5,459.8 152.1,459.0 159.6,457.7 167.1,456.8 174.6,457.0 182.1,458.2 189.7,459.4 197.2,459.9 204.7,460.0 212.2,460.0 219.7,460.0 227.3,460.0 234.8,460.0 242.3,460.0 249.8,460.0 257.3,460.0 264.9,460.0 272.4,460.0 279.9,460.0 287.4,460.0 294.9,459.8 302.5,459.3 310.0,458.2 317.5,457.6 325.0,458.0 332.5,459.0 340.1,459.8 347.6,460.0 355.1,460.0 362.6,460.0 370.1,460.0 377.7,460.0 385.2,460.0 392.7,460.1 400.2,460.1 407.7,460.1 415.3,460.1 422.8,460.1 430.3,460.1 437.8,460.2 445.3,460.2 452.9,460.2 460.4,460.2 467.9,460.2 475.4,460.2 482.9,460.2 490.5,460.3 498.0,460.3 505.5,460.3 513.0,460.3" fill="none" stroke="#3faa84" stroke-width="0.9" stroke-linejoin="round" stroke-linecap="round"/>
<polyline points="54.3,463.3 513.5,463.5" fill="none" stroke="#7359b8" stroke-width="1.0" stroke-linejoin="round" stroke-linecap="round"/>
<polyline points="54.3,423.8 513.5,423.8" fill="none" stroke="#d9a08f" stroke-width="1.3" stroke-linejoin="round" stroke-linecap="round"/>
<polyline points="54.3,424.0 513.5,424.0" fill="none" stroke="#dabd58" stroke-width="1.25" stroke-linejoin="round" stroke-linecap="round"/>
<circle cx="531.2" cy="395.20" r="2.0" fill="#3faa84"/>
<text x="537.6" y="397.3" font-size="6.5" fill="#4a4a4a" text-anchor="start" font-weight="normal" textLength="40.5" lengthAdjust="spacingAndGlyphs">172.23.40.161...</text>
<text x="601.3" y="397.3" font-size="6.5" fill="#4a4a4a" text-anchor="end" font-weight="normal" textLength="19.73" lengthAdjust="spacingAndGlyphs">12.50%</text>
<circle cx="531.2" cy="406.37" r="2.0" fill="#4b86c5"/>
<text x="537.6" y="408.47" font-size="6.5" fill="#4a4a4a" text-anchor="start" font-weight="normal" textLength="42.4" lengthAdjust="spacingAndGlyphs">172.23.40.162:...</text>
<text x="601.3" y="408.47" font-size="6.5" fill="#4a4a4a" text-anchor="end" font-weight="normal" textLength="16.5" lengthAdjust="spacingAndGlyphs">7.93%</text>
<circle cx="531.2" cy="417.54" r="2.0" fill="#c73d6b"/>
<text x="537.6" y="419.64" font-size="6.5" fill="#4a4a4a" text-anchor="start" font-weight="normal" textLength="40.5" lengthAdjust="spacingAndGlyphs">172.23.40.163...</text>
<text x="601.3" y="419.64" font-size="6.5" fill="#4a4a4a" text-anchor="end" font-weight="normal" textLength="19.73" lengthAdjust="spacingAndGlyphs">58.22%</text>
<circle cx="531.2" cy="428.71" r="2.0" fill="#7e58c4"/>
<text x="537.6" y="430.81" font-size="6.5" fill="#4a4a4a" text-anchor="start" font-weight="normal" textLength="42.4" lengthAdjust="spacingAndGlyphs">172.23.40.164:...</text>
<text x="601.3" y="430.81" font-size="6.5" fill="#4a4a4a" text-anchor="end" font-weight="normal" textLength="16.5" lengthAdjust="spacingAndGlyphs">8.18%</text>
<circle cx="531.2" cy="439.88" r="2.0" fill="#d187b4"/>
<text x="537.6" y="441.98" font-size="6.5" fill="#4a4a4a" text-anchor="start" font-weight="normal" textLength="40.5" lengthAdjust="spacingAndGlyphs">172.23.40.165...</text>
<text x="601.3" y="441.98" font-size="6.5" fill="#4a4a4a" text-anchor="end" font-weight="normal" textLength="19.73" lengthAdjust="spacingAndGlyphs">58.20%</text>
<circle cx="531.2" cy="451.05" r="2.0" fill="#dcb940"/>
<text x="537.6" y="453.15" font-size="6.5" fill="#4a4a4a" text-anchor="start" font-weight="normal" textLength="40.5" lengthAdjust="spacingAndGlyphs">172.23.40.166...</text>
<text x="601.3" y="453.15" font-size="6.5" fill="#4a4a4a" text-anchor="end" font-weight="normal" textLength="19.73" lengthAdjust="spacingAndGlyphs">58.10%</text>
<text x="626.2" y="24.6" font-size="7.5" fill="#a6a6a6" text-anchor="start" font-weight="normal" textLength="13.5" lengthAdjust="spacingAndGlyphs">TiKV</text>
<text x="626" y="42.2" font-size="9.6" fill="#333" text-anchor="start" font-weight="normal" textLength="5.02" lengthAdjust="spacingAndGlyphs">3</text>
<text x="632.2" y="42.0" font-size="6.4" fill="#555" text-anchor="start" font-weight="normal" textLength="6.69" lengthAdjust="spacingAndGlyphs">/ 3</text>
<text x="626.3" y="89.9" font-size="9.9" fill="#2b2b2b" text-anchor="start" font-weight="normal" textLength="49.8" lengthAdjust="spacingAndGlyphs">监控和告警</text>
<text x="626.3" y="115" font-size="6.9" fill="#4a6bcc" text-anchor="start" font-weight="normal" textLength="27.7" lengthAdjust="spacingAndGlyphs">查看监控</text>
<polyline points="660.9,109.9 663.8000000000001,112.5 660.9,115.1" fill="none" stroke="#4a6bcc" stroke-width="1.0" stroke-linecap="round" stroke-linejoin="round"/>
<text x="626.3" y="133.9" font-size="6.9" fill="#d9484a" text-anchor="start" font-weight="normal" textLength="13.8" lengthAdjust="spacingAndGlyphs">查看</text>
<text x="642.3" y="133.9" font-size="7" fill="#d9484a" text-anchor="start" font-weight="normal" textLength="7.32" lengthAdjust="spacingAndGlyphs">17</text>
<text x="652.3" y="133.9" font-size="6.9" fill="#d9484a" text-anchor="start" font-weight="normal" textLength="20.7" lengthAdjust="spacingAndGlyphs">条告警</text>
<polyline points="679.5999999999999,128.8 682.5,131.4 679.5999999999999,134.0" fill="none" stroke="#4a6bcc" stroke-width="1.0" stroke-linecap="round" stroke-linejoin="round"/>
<text x="626.3" y="153.1" font-size="6.9" fill="#4a6bcc" text-anchor="start" font-weight="normal" textLength="27.7" lengthAdjust="spacingAndGlyphs">运行诊断</text>
<polyline points="660.9,148.0 663.8000000000001,150.6 660.9,153.2" fill="none" stroke="#4a6bcc" stroke-width="1.0" stroke-linecap="round" stroke-linejoin="round"/>
<rect x="0" y="465.2" width="690" height="3.8" fill="url(#bot)"/>
</svg>
</body>
</html>
